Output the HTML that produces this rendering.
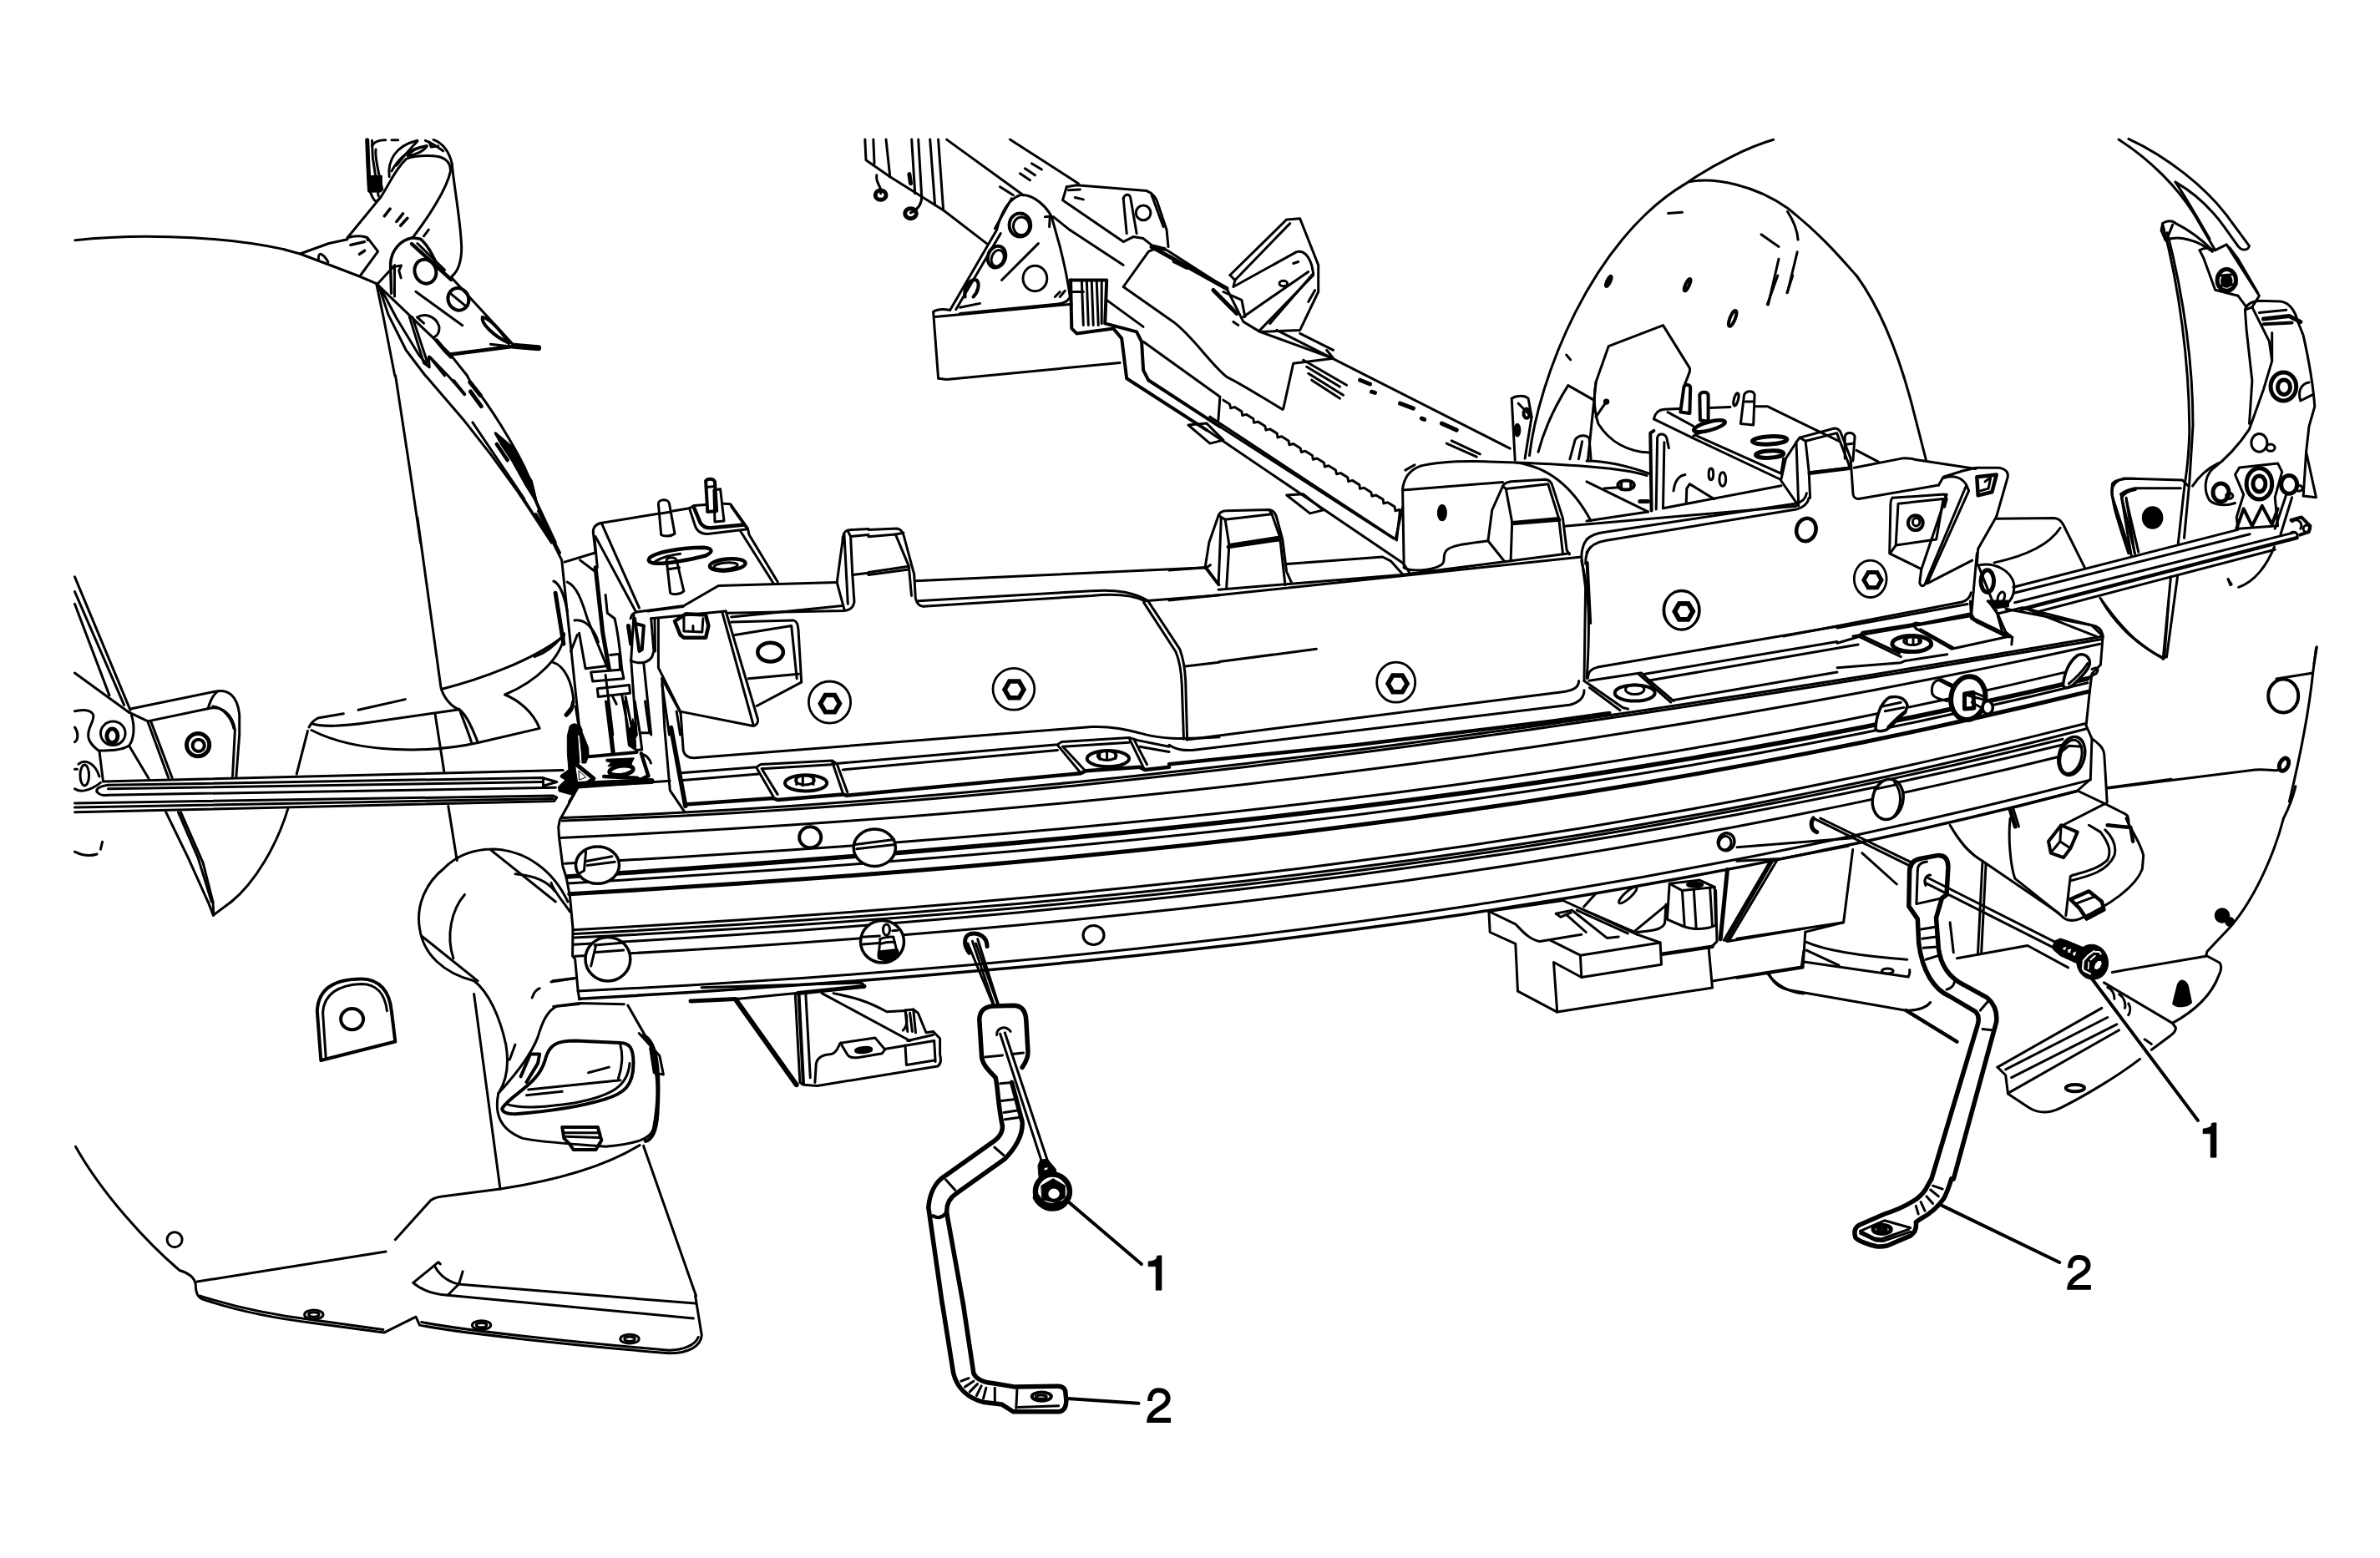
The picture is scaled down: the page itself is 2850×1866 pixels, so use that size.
<!DOCTYPE html>
<html><head><meta charset="utf-8"><title>Diagram</title>
<style>html,body{margin:0;padding:0;background:#fff}svg{display:block}text{font-family:"Liberation Sans",sans-serif}</style>
</head><body>
<svg width="2850" height="1866" viewBox="0 0 2850 1866" fill="none" stroke="#000" stroke-width="3" stroke-linecap="round" stroke-linejoin="round">
<rect x="0" y="0" width="2850" height="1866" fill="#fff" stroke="none"/>
<path d="M 439.7 167.7 L 440.9 198.1 L 442.4 227" stroke-width="5"/>
<path d="M 445.5 168.3 L 446.3 188.5 L 450.1 213.5 L 453.2 234.7"/>
<path d="M 441.1 211.6 L 456.5 211.2 L 455.9 228.9 L 441.7 229.3 Z" fill="#000"/>
<path d="M 442.4 227 C 444.9 234.7 447.8 240.5 450.7 241.5 L 455.5 236.6"/>
<path d="M 450.1 178.9 C 448.2 188.5 454 207.8 457.8 227"/>
<path d="M 445.5 175 C 447.8 169.3 455.5 167.3 461.7 167.7"/>
<path d="M 469 167.7 L 476.7 167.7"/>
<path d="M 466.1 211.6 C 464.2 192.4 472.8 175 499.8 168.3"/>
<path d="M 469 204.9 C 478.6 186.6 494 177 510.4 174.6"/>
<path d="M 488.2 186.6 C 494 178.9 503.7 176 511.4 175 C 507.5 180.8 497.9 185.6 488.2 186.6"/>
<path d="M 474.8 198.1 C 482.5 188.5 490.2 178.9 499.8 169.3"/>
<path d="M 509.4 168.3 C 517.1 171.2 522.9 175 530.6 180.8"/>
<path d="M 519.1 167.3 C 530.6 171.2 538.3 182.7 541.2 196.2"/>
<path d="M 514.2 170.2 L 516.2 176 L 524.8 175"/>
<path d="M 416 284.8 L 455.5 236.6 C 465.1 223.2 470.9 205.8 486.3 190.4 C 494 186.6 513.3 185.6 524.8 187.5 C 534.5 189.5 540.2 196.2 539.3 205.8 C 534.5 227 513.3 259.7 494 284.8"/>
<path d="M 541.2 196.2 C 544.1 227 551.8 265.5 552.7 296.3 C 552.7 313.7 547.9 325.2 541.2 331"/>
<path d="M 460.3 258.8 L 467.1 250.1" stroke-width="3.5"/>
<path d="M 474.8 265.5 L 482.5 255.9" stroke-width="3.5"/>
<path d="M 479.6 270.3 L 487.9 261.3" stroke-width="3.5"/>
<path d="M 507.5 282.8 L 513.3 275.1"/>
<path d="M 340 298.8 L 359.3 304 L 397.8 318.5 L 430.5 331 L 450.7 339.6"/>
<path d="M 359.3 304 L 393.9 291.5 L 416 286.7"/>
<path d="M 416 284.8 C 422.8 282.5 432.4 282.5 439.2 284.2 L 440.5 287.7"/>
<path d="M 440.1 284.8 L 452.6 301.1 L 431.5 330"/>
<path d="M 419.9 293.4 L 436.3 289.6" stroke-width="3.5"/>
<path d="M 430.5 304.4 L 436.6 300.2" stroke-width="3.5"/>
<path d="M 381.4 310.2 C 380.8 302.1 386.2 301.7 392.9 313.7"/>
<path d="M 468.6 351.2 L 467.6 315.6 C 468.6 300.2 478.6 287.7 494 284.8 L 503.7 286.3 C 511.4 292.5 517.1 304 522.9 315.6" stroke-width="3.5"/>
<path d="M 472.5 355 L 472.5 320.4"/>
<path d="M 452.6 339.6 L 472.8 317.5"/>
<path d="M 472.8 319.4 L 480.5 317.9 L 477.7 324.2 L 480.2 332.9"/>
<path d="M 493.1 292.1 L 540.2 334.8" stroke-width="4.5"/>
<path d="M 499.8 291.5 L 532.5 323.3"/>
<path d="M 540.2 331.9 L 615.3 413.4"/>
<path d="M 450.7 339.6 L 538.3 423.4 L 559.5 450"/>
<path d="M 539.3 424.4 L 615.3 414.7" stroke-width="4.5"/>
<path d="M 615.3 414.2 L 644.6 416.7" stroke-width="7"/>
<path d="M 587.4 412.2 L 613.4 415.3"/>
<ellipse cx="509.4" cy="325.2" rx="12.7" ry="14.6" transform="rotate(-20 509.4 325.2)" stroke-width="4"/>
<ellipse cx="548.9" cy="358.3" rx="12.3" ry="13.5" transform="rotate(-25 548.9 358.3)" stroke-width="4"/>
<path d="M 540.2 352.2 L 556.6 365.6"/>
<path d="M 499.8 380.1 C 507.5 375.3 521 377.2 525.8 390.7 C 526.8 398.4 522.9 402.2 520 403.8"/>
<path d="M 499.8 380.1 L 507.5 387.2"/>
<path d="M 577.8 380.1 C 575.8 386.8 590.3 402.2 609.5 410.9" stroke-width="4"/>
<path d="M 577.8 380.1 C 586.4 381 599.9 396.4 609.5 410.9" stroke-width="4"/>
<path d="M 497.9 349.3 L 553.7 389.7"/>
<path d="M 450.7 339.6 L 459.4 381 L 472.8 450"/>
<path d="M 453.6 342.5 L 465.1 377.2 L 486.3 419.5 L 509.4 450"/>
<path d="M 455.5 344.5 L 474.8 381 L 501.7 425.3 L 513.3 438.8"/>
<path d="M 490.2 379.1 L 507.5 434.9 L 514.2 439.8 L 513.3 427.2"/>
<path d="M 494 380.1 L 511.4 433"/>
<path d="M 522.9 408 L 532.5 419.5 L 540.2 427.2" stroke-width="5"/>
<path d="M 514.2 427.2 L 532.5 450"/>
<path d="M 473.6 450.1 L 490.5 560.4 L 503.6 650"/>
<path d="M 509.7 450.1 L 556.3 504.3 L 588.3 545.2 L 620.4 589.3 L 660.5 650"/>
<path d="M 515.4 428.1 L 537 450.5 L 556.3 472.2"/>
<path d="M 543.4 456.2 L 556.3 472.2" stroke-width="4"/>
<path d="M 559.5 450.1 L 562.7 456.2 C 581.9 480.2 604.4 515.5 620.4 544.4 C 630.1 562 638.1 579.7 642.1 600.5"/>
<path d="M 562.7 457.8 L 575.5 473.8" stroke-width="5"/>
<path d="M 563.5 469 L 576.3 486.6" stroke-width="5"/>
<path d="M 565.9 505.9 L 627.7 597.3"/>
<path d="M 593.2 518.7 L 614 536.4 L 626.9 560.4 L 636.5 576.5 L 642.1 600.5 L 630.1 581.3 L 614 552.4 L 601.2 533.2 Z" fill="#000"/>
<path d="M 594.8 531.9 L 607.6 551.1" stroke-width="4.5"/>
<path d="M 626.9 597.3 L 660.5 650"/>
<path d="M 642.1 600.5 L 665.4 650"/>
<path d="M 641.3 616.6 L 657.3 640.7" stroke-width="5"/>
<path d="M 499.9 620 L 528 823.7 C 530.9 835.5 541.3 847.3 550.1 849.7 C 559 856.2 566.3 873.9 572.3 889.3"/>
<path d="M 550.1 849.7 C 556 865.1 561.9 879.8 564.9 890.2"/>
<path d="M 521.2 856.2 L 531.8 924.1"/>
<path d="M 536.8 965.4 L 547.2 1030.4"/>
<path d="M 671.2 764.7 C 635.7 791.2 576.7 813.4 529.4 825.2"/>
<path d="M 675.6 758.8 C 674.1 785.3 644.6 814.9 604.7 832"/>
<path d="M 604.7 832 C 621 838.5 638.7 853.2 646.1 872.4 L 573.7 889.3 C 517.6 902 429.1 903.4 373 874.5"/>
<path d="M 370 871 C 373 865.1 377.4 861.5 381.8 859.7 L 411.3 854.7"/>
<path d="M 429.1 850.3 L 485.2 837.6"/>
<path d="M 373 866.5 C 384.8 871 414.3 869.5 443.8 865.1 L 550.1 849.7"/>
<path d="M 368.5 875.4 L 355.2 927.1"/>
<path d="M 344.9 968.4 C 331.6 1012.7 305.1 1057 277 1080"/>
<path d="M 123.5 935.9 L 674.1 922.6"/>
<path d="M 129.4 940.3 L 649 931.5 L 666.7 936.5 L 650.5 941.2"/>
<path d="M 116.1 948.3 C 114.6 944.8 119 941.8 129.4 940.3"/>
<path d="M 116.1 948.3 C 119 952.2 125 953 129.4 952.2 L 665.3 943.3"/>
<path d="M 129.4 944.8 L 650.5 936.5"/>
<path d="M 89.5 961.9 L 662.3 953 L 666.7 955.1 L 663.8 959.5 L 89.5 972.8"/>
<path d="M 89.5 966.9 L 662.3 956.6"/>
<path d="M 650.5 931.5 L 650.5 941.2"/>
<path d="M 157.4 848.8 L 257.8 828.1 C 272.6 825.2 284.4 832.6 286.7 856.2 L 286.7 879.8 L 282.9 930"/>
<path d="M 178.1 863.6 L 249 848.8 C 266.7 844.4 278.5 856.2 281.4 873.9 L 278.5 930"/>
<path d="M 249 848.8 C 251.9 838.5 256.3 831.1 260.8 828.1"/>
<path d="M 254.9 845.9 C 266.7 847.3 277 859.1 280 872.4"/>
<ellipse cx="135.3" cy="878.3" rx="14.8" ry="14.2"/>
<ellipse cx="134.4" cy="881.3" rx="6.5" ry="8.3" stroke-width="5"/>
<ellipse cx="237.1" cy="892.2" rx="13.6" ry="13.6" stroke-width="5"/>
<ellipse cx="237.7" cy="892.8" rx="7.1" ry="7.1" stroke-width="4"/>
<path d="M 89.5 806 L 154.5 853.2"/>
<path d="M 89.5 690.9 L 156 850.3"/>
<path d="M 89.5 708.6 L 148.6 844.4"/>
<path d="M 89.5 723.3 L 130.9 832.6"/>
<path d="M 154.5 853.2 L 176.6 863.6 L 201.7 931.5"/>
<path d="M 181.1 865.1 L 206.1 931.5"/>
<path d="M 157.4 856.2 C 161.9 871 160.4 885.7 154.5 893.1 L 178.1 932.4"/>
<path d="M 154.5 893.1 C 145.6 899 130.9 899 119 899"/>
<path d="M 89.5 851.8 C 98.4 850.3 108.7 848.8 111.7 856.2 C 113.1 865.1 104.3 871 105.8 882.8 C 107.2 891.6 114.6 896.1 119 899.9 L 123.5 935.9"/>
<path d="M 89.5 871 C 94 876.9 94 885.7 89.5 888.7"/>
<path d="M 89.5 944.8 C 95.4 949.2 107.2 947.7 120.5 937.4"/>
<ellipse cx="101.3" cy="928.5" rx="5.3" ry="12.4"/>
<path d="M 94 915.2 C 101.3 909.3 113.1 912.3 119 930"/>
<path d="M 89.5 921.2 L 92.5 921.2"/>
<path d="M 198.8 972.8 L 225.3 1027.4 L 249 1080"/>
<path d="M 213.5 972.8 L 237.1 1027.4 L 253.4 1080"/>
<path d="M 216.5 972.8 L 243.1 1033.3 L 254.9 1080"/>
<path d="M 89.5 1020.1 C 98.4 1024.5 107.2 1026 116.1 1023"/>
<path d="M 120.5 1017.1 L 122.6 1008.2"/>
<path d="M 249.1 1080 L 255.4 1096.1"/>
<path d="M 255 1080 L 255.8 1096.1"/>
<path d="M 277 1080 L 255.4 1096.1"/>
<path d="M 90.5 1373.3 C 122.9 1430.8 176.8 1489.2 215 1521.5 C 226.2 1525.1 232.9 1529.6 234.3 1538.6 C 234.3 1549.8 237.4 1554.3 244.2 1556.6"/>
<path d="M 244.2 1556.6 C 284.6 1570.1 329.5 1579 374.4 1584.4 L 459.8 1596.1 L 498 1577.2 L 502.5 1587.1 C 554.1 1597 688.9 1611.4 801.2 1620.8 C 823.6 1620.8 839.4 1612.7 840.3 1599.2 L 832.6 1552.1"/>
<path d="M 239.7 1552.1 C 284.6 1566.5 329.5 1575.4 374.4 1580.8 L 458.9 1592.5"/>
<path d="M 504.7 1583.5 C 554.1 1593.4 688.9 1607.8 801.2 1617.2 C 819.1 1617.2 832.6 1610.5 836.2 1601.5"/>
<path d="M 236.1 1535 L 462 1499.1"/>
<path d="M 473.3 1484.7 L 515.9 1437.5 C 520.4 1434.4 524.9 1433.5 529.4 1433 L 599 1424.1 C 666.4 1413.7 724.8 1397.1 766.1 1371.5"/>
<path d="M 494.8 1536.4 L 524.9 1511.7 L 527.2 1513.9"/>
<path d="M 494.8 1536.4 C 504.7 1545.3 518.2 1549.8 536.1 1551.2 L 830.4 1579"/>
<path d="M 520.4 1516.1 C 527.2 1529.6 540.6 1537.7 554.1 1538.6 L 832.6 1561.1"/>
<path d="M 554.1 1522.9 L 549.6 1537.7 L 536.1 1551.2"/>
<path d="M 770.6 1372.4 L 833.5 1552.1"/>
<path d="M 751.8 1204 L 778.7 1251.1"/>
<path d="M 567.6 1190.5 L 599 1424.1"/>
<path d="M 384.3 1270 L 379.8 1210.7 C 381.2 1183.7 401.4 1172.5 432.8 1172.5 C 455.3 1172.5 466.5 1188.2 468.8 1210.7 L 473.3 1247.5 Z" stroke-width="4"/>
<path d="M 390.2 1266.8 L 386.6 1212.9 C 387.9 1190.5 405.9 1179.3 432.8 1178.4 C 450.8 1178.4 461.1 1190.5 463.4 1210.7"/>
<ellipse cx="421.6" cy="1220.6" rx="13.5" ry="12.6" stroke-width="4"/>
<ellipse cx="209.1" cy="1484.7" rx="9.0" ry="9.0"/>
<ellipse cx="375.8" cy="1574.5" rx="11.2" ry="5.4"/>
<ellipse cx="375.8" cy="1574.5" rx="6.3" ry="2.7"/>
<ellipse cx="576.6" cy="1587.1" rx="11.2" ry="5.4"/>
<ellipse cx="576.6" cy="1587.1" rx="6.3" ry="2.7"/>
<ellipse cx="754.0" cy="1603.7" rx="11.2" ry="5.4"/>
<ellipse cx="754.0" cy="1603.7" rx="6.3" ry="2.7"/>
<path d="M 531.7 1040 C 509.2 1058 498 1084.9 502.5 1111.9 C 506.9 1143.3 531.7 1165.8 567.6 1174.8 C 585.6 1188.2 599 1219.7 605.8 1251.1 C 610.3 1278.1 605.8 1296 596.8 1309.5"/>
<path d="M 556.4 1071.4 C 540.6 1089.4 533.9 1120.9 542.9 1147.8"/>
<path d="M 617 1046.7 C 644 1049 657.4 1058 664.2 1067"/>
<path d="M 504.7 1120.9 L 572.1 1174.8"/>
<path d="M 610.3 1269.1 L 617 1251.1"/>
<path d="M 637.2 1195 C 639.5 1188.2 641.7 1186 646.2 1183.7"/>
<path d="M 661.9 1174.8 L 688.9 1171.6"/>
<path d="M 693.4 1202.6 L 666.4 1205.3 C 655.2 1210.7 649.3 1224.2 644 1242.1 C 637.2 1260.1 621.5 1282.6 596.8 1309.5 C 592.3 1332 596.8 1352.2 626 1363.4 C 652.9 1368.8 688.9 1370.2 724.8 1373.3 C 760.7 1370.2 778.7 1364.3 782.3 1352.2 C 788.6 1318.5 787.7 1291.5 783.2 1273.6 L 778.7 1251.1"/>
<path d="M 601.3 1327.5 C 612.5 1309.5 644 1300.5 652.9 1269.1 C 657.4 1251.1 666.4 1246.6 688.9 1246.6 L 742.8 1248.9 C 754 1248.9 758.5 1255.6 758.5 1273.6 C 758.5 1300.5 747.3 1309.5 724.8 1316.3 C 688.9 1327.5 644 1332 617 1334.2 C 605.8 1334.2 601.3 1332 601.3 1327.5" stroke-width="4"/>
<path d="M 605.8 1322.1 C 621.5 1327.5 644 1327.5 688.9 1320.7 C 733.8 1311.8 751.8 1300.5 754 1273.6"/>
<path d="M 632.7 1305 L 742.8 1293.8"/>
<path d="M 630.5 1311.8 L 673.2 1307.3"/>
<path d="M 704.6 1284.8 L 729.3 1278.1"/>
<path d="M 742.8 1251.1 C 746.4 1264.6 745 1278.1 740.5 1291.5"/>
<path d="M 765.2 1237.6 L 789.9 1264.6 L 794.4 1287.1 L 783.2 1284.8 L 778.7 1255.6"/>
<path d="M 673.2 1349.9 L 715.8 1349.9 L 720.3 1365.7 L 713.6 1376.9 L 686.6 1376.9 L 682.1 1370.2 L 675.4 1363.4 Z" stroke-width="4"/>
<path d="M 675.4 1356.7 L 718.1 1356.7"/>
<path d="M 677.6 1361.2 L 718.1 1362.5"/>
<path d="M 623.7 1289.3 L 635 1262.4 L 646.2 1262.4 L 644 1273.6 L 630.5 1296" stroke-width="4"/>
<path d="M 762.2 733.1 C 757.8 734.2 755.7 736.4 755.2 740.8"/>
<path d="M 710.3 637.1 C 710.3 630.6 714.2 627.3 720.7 626.2 L 788.4 615.3"/>
<path d="M 805.8 612 L 825.5 608.7"/>
<path d="M 710.3 637.1 L 713.1 662.2"/>
<path d="M 713.1 642.6 L 761.1 732"/>
<path d="M 720.7 627.3 L 765.5 728.1"/>
<path d="M 762.2 733.1 L 818.9 725.5 L 860.4 701.5 L 1002.2 697.6"/>
<path d="M 775.3 732 L 817.9 726.6"/>
<path d="M 779.7 740.8 L 869.1 732"/>
<path d="M 825.5 608.7 L 830.9 605.5 L 845.1 604.4"/>
<path d="M 867 603.3 L 874.6 603.7 L 895.3 632.7 L 897.1 640.4 L 931.3 697.1"/>
<path d="M 825.5 608.7 L 833.1 631.7 C 836.4 638.2 842.9 639.9 849.5 639.3 L 895.3 633.8"/>
<path d="M 830.9 607.6 L 838.6 626.2 C 841.9 631.7 846.2 632.7 851.7 632.3 L 891 628.4" stroke-width="4.5"/>
<path d="M 875.7 606.6 L 894.2 632.7"/>
<path d="M 886.6 636 L 925.9 698.2"/>
<path d="M 788.4 603.3 C 788.4 597.8 800.4 596.7 801.5 603.3 L 808 639.3 C 803.7 642.6 794.9 642.6 791.7 640.4 Z"/>
<path d="M 789.5 615.3 L 803.7 613.1"/>
<path d="M 845.1 576 C 847.3 572.7 854.9 572.7 856 577.1 L 858.2 612 L 847.3 613.1 Z" stroke-width="4"/>
<path d="M 846.2 583.6 L 856 582.6"/>
<path d="M 854.9 586.9 L 862.6 585.8 L 867 624 L 856 625.1 Z"/>
<path d="M 798.2 670.9 C 799.3 666.6 808 666.6 810.2 670.9 L 818.9 708 C 814.6 712.4 805.8 712.4 802.6 710.2 Z"/>
<path d="M 800.4 681.8 L 813.5 679.7"/>
<path d="M 777.5 668.8 C 781.8 662.2 814.6 655.7 842.9 655.7 C 853.9 656.7 853.9 661.1 845.1 665.5 C 825.5 670.9 792.8 676.4 781.8 674.2 C 776.4 673.1 776.4 670.9 777.5 668.8" stroke-width="4.5"/>
<path d="M 785.1 672 C 792.8 667.7 805.8 664.4 814.6 663.3"/>
<ellipse cx="871.3" cy="676.4" rx="21.4" ry="7.0" transform="rotate(-5 871.3 676.4)" stroke-width="4.5"/>
<ellipse cx="869.1" cy="677.9" rx="14.2" ry="3.9" transform="rotate(-5 869.1 677.9)"/>
<path d="M 1002.2 697.6 L 1008.8 649.1 C 1008.8 640.4 1011 636 1015.3 634.9 L 1040 633.4"/>
<path d="M 1018.6 642.6 L 1040 640.4"/>
<path d="M 1018.6 642.6 L 1020.8 688.4 L 1040 686.2"/>
<path d="M 1015.3 636 L 1018.6 642.6"/>
<path d="M 1011 640.4 L 1015.3 723.3"/>
<path d="M 1020.8 688.4 L 1023 721.1 C 1021.9 727.7 1017.5 730.9 1011 731.6 L 871.3 734.2"/>
<path d="M 1008.8 725.5 L 875.7 739"/>
<path d="M 1002.2 697.6 L 1011 729.9"/>
<path d="M 788.4 740.8 L 788.4 799.7 L 814.6 852.1 L 901.9 869.5 C 906.2 868.4 908.4 865.2 907.3 860.8 L 869.1 732"/>
<path d="M 864.8 733.1 L 901.9 867.3"/>
<path d="M 784 740.8 L 784.5 780"/>
<path d="M 808 744 L 814.6 760.4 L 818.9 763.7 L 845.1 763.7 L 848.4 749.5 L 845.1 736.4 L 821.1 735.3 Z" stroke-width="4.5"/>
<path d="M 818.9 738.6 L 818.9 756 L 840.8 757.1 L 841.9 740.8"/>
<path d="M 829.9 749.5 L 829.9 756"/>
<path d="M 875.7 745.1 L 949.9 742.9 C 954.2 744 955.3 747.3 956 753.9 L 959.7 817.1 L 906.2 845.5"/>
<path d="M 880 760.4 L 947.7 749.5 L 954.2 812.8"/>
<path d="M 896.4 812.8 L 956.4 807.3"/>
<ellipse cx="922.6" cy="781.1" rx="15.3" ry="11.3" stroke-width="4.5"/>
<ellipse cx="993.5" cy="841.1" rx="25.1" ry="25.1" stroke-width="2.8"/>
<path d="M 1005.5 842.7 L 999.6 852.7 L 988.3 852.7 L 982.4 842.7 L 988.3 832.6 L 999.6 832.6 Z" stroke-width="5.5" stroke-linejoin="miter"/>
<path d="M 640 596.7 L 659.6 644.7 L 672.7 670.9"/>
<path d="M 644.4 612 L 670.6 662.2"/>
<path d="M 672.7 670.9 L 694.6 880"/>
<path d="M 676 673.1 L 712 662.2"/>
<path d="M 694.6 670.9 L 712 684"/>
<path d="M 665.1 710.2 L 674.9 771.3" stroke-width="5"/>
<path d="M 662.9 696 C 670.6 699.3 676 714.6 679.3 732"/>
<path d="M 679.3 697.1 C 690.2 701.5 696.7 718.9 703.3 740.8 L 727.3 799.7"/>
<path d="M 688 742.9 C 701.1 740.8 712 753.9 716.4 769.1"/>
<path d="M 693.5 758.2 L 701.1 800.8 L 727.3 797.5"/>
<path d="M 640 786.6 C 653.1 782.2 664 773.5 672.7 762.6"/>
<path d="M 661.8 793.1 C 677.1 797.5 685.8 819.3 686.9 841.1 C 686.9 849.9 682.6 854.2 678.2 857.5"/>
<path d="M 683.6 780 L 691.3 760.4"/>
<path d="M 725.1 712.4 L 727.3 734.2 L 736 740.8 C 740.4 758.2 742.6 780 744.7 801.9"/>
<path d="M 713.1 679.7 L 721.8 758.2 L 729.5 801.9" stroke-width="5"/>
<path d="M 712 644.7 L 715.3 679.7"/>
<path d="M 707.6 805.1 L 744.7 801.9 L 746.9 812.8 L 709.8 816.1 Z"/>
<path d="M 715.3 824.8 L 753.5 820.4 L 754.6 830.2 L 716.4 834.6 Z"/>
<path d="M 730.6 784.4 L 741.5 783.3 L 742.6 801.9"/>
<path d="M 733.8 834.6 L 738.2 843.3"/>
<path d="M 758.9 736.4 L 755.7 791 L 762.2 880"/>
<path d="M 770.9 795.3 L 779.7 880"/>
<path d="M 755.2 791 C 762.2 795.3 775.3 795.3 780.8 786.6 L 782.9 780 L 779.7 740.8"/>
<path d="M 760 740.8 L 765.5 780 L 768.8 777.9 L 770.9 749.5 L 762.2 747.3" stroke-width="4"/>
<path d="M 752.4 749.5 L 755.7 771.3" stroke-width="5"/>
<path d="M 725.1 808.4 L 733.8 880"/>
<path d="M 744.7 832.4 L 753.5 880"/>
<path d="M 749.1 834.6 L 755.7 867.3"/>
<path d="M 792.8 819.3 L 801.5 880"/>
<path d="M 810.2 852.1 L 814.6 880"/>
<path d="M 1035.8 167.1 L 1037 191.8 L 1065.8 211.8"/>
<path d="M 1045.8 167.1 L 1047 195.8"/>
<path d="M 1061 167.1 L 1065.8 211.8 L 1129.6 251.7"/>
<path d="M 1091.7 167.1 L 1095.7 231.7"/>
<path d="M 1099.7 167.1 L 1103.7 235.7 C 1103.7 247.7 1095.7 252.5 1090.5 254.9"/>
<path d="M 1113.7 167.1 L 1119.6 245.7"/>
<path d="M 1123.6 167.1 L 1129.6 251.7"/>
<path d="M 1049.8 209.8 C 1047.8 219.7 1057 223.7 1054.6 231.7"/>
<ellipse cx="1054.6" cy="233.7" rx="6.4" ry="5.6" stroke-width="5"/>
<ellipse cx="1090.5" cy="255.7" rx="6.8" ry="6.0" stroke-width="5"/>
<path d="M 1088.9 208.6 L 1090.5 219.7" stroke-width="5"/>
<path d="M 1133.6 167.1 L 1225.4 233.7"/>
<path d="M 1209.4 167.1 L 1291.3 219.7"/>
<path d="M 1221.4 207.8 L 1233.4 215.8"/>
<path d="M 1227.4 201.8 L 1239.4 209.8"/>
<path d="M 1235.4 195.8 L 1247.4 203"/>
<path d="M 1129.6 251.7 L 1181.5 291.6"/>
<path d="M 1197.5 223.7 L 1213.4 233.7"/>
<path d="M 1137.6 371.4 L 1193.5 275.6 C 1197.5 259.7 1205.5 239.7 1221.4 233.7 C 1237.4 231.7 1253.4 247.7 1259.3 259.7 L 1269.3 295.6 C 1275.3 319.5 1279.3 339.5 1281.3 355.5 C 1279.3 361.4 1273.3 363.4 1265.3 364.2 L 1149.6 375.4"/>
<path d="M 1144.8 370.6 L 1198.3 279.6"/>
<path d="M 1211.4 237.7 L 1191.5 273.6"/>
<ellipse cx="1221.4" cy="269.6" rx="12.8" ry="14.0" stroke-width="4"/>
<ellipse cx="1223.0" cy="270.8" rx="9.6" ry="10.8"/>
<ellipse cx="1193.5" cy="307.6" rx="10.4" ry="13.2" transform="rotate(20 1193.5 307.6)" stroke-width="4"/>
<ellipse cx="1194.7" cy="309.2" rx="7.2" ry="10.0" transform="rotate(20 1194.7 309.2)"/>
<ellipse cx="1239.4" cy="333.5" rx="14.4" ry="15.2"/>
<path d="M 1155.6 355.5 C 1153.6 343.5 1161.6 333.5 1169.5 335.5 C 1173.5 339.5 1171.5 349.5 1165.5 355.5" stroke-width="4"/>
<path d="M 1199.5 335.5 L 1243.4 291.6"/>
<path d="M 1251.4 259.7 L 1257.3 258.9 L 1256.6 271.6"/>
<path d="M 1263.3 355.5 L 1269.3 349.5"/>
<path d="M 1269.3 355.5 L 1275.3 348.3"/>
<path d="M 1149.6 368.2 L 1173.5 363.4"/>
<path d="M 1117.6 373.4 L 1123.6 453.3 L 1133.6 454.4 L 1341.2 434.5"/>
<path d="M 1117.6 373.4 C 1121.6 370.6 1129.6 369.8 1137.6 371.4"/>
<path d="M 1119.6 379.4 L 1283.3 364.2"/>
<path d="M 1281.3 335.5 L 1325.2 335.5 L 1323.2 387.4 L 1361.1 397.4 L 1367.1 409.3 L 1369.1 443.3 L 1375.1 455.2 L 1460.9 511.1" stroke-width="4"/>
<path d="M 1295.3 335.5 L 1297.3 389.4"/>
<path d="M 1301.3 335.5 L 1303.3 389.4"/>
<path d="M 1307.2 335.5 L 1309.2 389.4"/>
<path d="M 1313.2 335.5 L 1315.2 389.4"/>
<path d="M 1319.2 335.5 L 1319.2 387.4"/>
<path d="M 1282.1 335.5 L 1283.3 393.4 L 1289.3 399.4 L 1333.2 393.4 L 1343.2 405.4 L 1349.2 453.3 L 1445 515.1" stroke-width="4"/>
<path d="M 1285.3 349.5 L 1297.3 349.5"/>
<path d="M 1277.3 223.7 L 1289.3 221.7 L 1373.1 228.5 C 1381.1 231.7 1385.1 237.7 1387.1 245.7 L 1397.1 275.6 L 1399 295.6"/>
<path d="M 1277.3 223.7 L 1272.5 239.7 L 1345.2 289.6 L 1357.1 283.6 L 1369.1 285.6 L 1379.1 293.6 L 1395.1 297.6"/>
<ellipse cx="1369.1" cy="254.9" rx="8.8" ry="8.8"/>
<path d="M 1345.2 237.7 C 1347.2 231.7 1353.1 231.7 1353.9 237.7 L 1361.1 279.6"/>
<path d="M 1345.2 237.7 L 1349.2 279.6"/>
<path d="M 1279.3 227.7 L 1293.3 226.9"/>
<path d="M 1287.3 236.5 L 1297.3 238.9"/>
<path d="M 1379.1 233.7 L 1393.1 271.6"/>
<path d="M 1345.2 343.5 L 1375.1 301.6 C 1381.1 297.6 1389.1 297.6 1397.1 299.6 L 1468.9 345.5 L 1488.9 385.4 L 1508.8 397.4 L 1596.6 429.3 L 1548.7 435.3 L 1536.8 489.2"/>
<path d="M 1379.1 295.6 L 1468.9 345.5" stroke-width="5"/>
<path d="M 1405 313.5 L 1421 321.5"/>
<path d="M 1452.9 347.5 L 1480.9 375.4" stroke-width="5"/>
<path d="M 1476.9 385.4 L 1482.9 389.4"/>
<path d="M 1345.2 343.5 L 1405 385.4 C 1429 403.4 1448.9 435.3 1468.9 451.3 C 1488.9 461.2 1516.8 479.2 1536 490.4"/>
<path d="M 1281.3 275.6 L 1345.2 317.5"/>
<path d="M 1261.3 259.7 L 1281.3 275.6"/>
<path d="M 1325.2 359.4 L 1369.1 391.4"/>
<path d="M 1369.1 409.3 L 1460.9 475.2 L 1458.9 503.1"/>
<path d="M 1464.9 479.2 L 1472.5 484 L 1473.7 488.8 L 1478.5 487.6 L 1486.9 492.8 L 1487.7 497.6 L 1492.5 496.4 L 1500.8 501.5 L 1501.6 506.3 L 1506.4 505.1 L 1514.8 510.3 L 1516 515.1 L 1520.8 513.9 L 1529.2 519.1 L 1530 523.9 L 1534.8 522.7 L 1543.1 527.9 L 1543.9 532.7 L 1548.7 531.5 L 1557.1 536.7 L 1558.3 541.5 L 1563.1 540.3 L 1571.5 545.5 L 1572.3 550.2 L 1577.1 549 L 1585.5 554.2 L 1586.3 559 L 1591 557.8 L 1599.4 563 L 1600.6 567.8 L 1605.4 566.6 L 1613.8 571.8 L 1614.6 576.6 L 1619.4 575.4 L 1627.8 580.6 L 1628.6 585.4 L 1633.4 584.2 L 1641.7 589.4 L 1642.9 594.2 L 1647.7 593 L 1656.1 598.1 L 1656.9 602.9 L 1661.7 601.7 L 1670.1 606.9 L 1670.9 611.7 L 1675.7 610.5 L 1676.5 610.9 L 1672.5 646.8"/>
<path d="M 1448.9 499.2 L 1672.5 646.8"/>
<path d="M 1460.9 511.1 L 1668.5 644.8"/>
<path d="M 1445 515.1 L 1680.5 674.8 L 1688.4 686.8"/>
<path d="M 1528.8 395.4 L 1808.2 537.1"/>
<path d="M 1556.7 399.4 L 1596.6 419.3"/>
<path d="M 1628.6 455.2 L 1640.5 460" stroke-width="5"/>
<path d="M 1642.5 469.2 L 1646.5 470.4" stroke-width="5"/>
<path d="M 1676.5 483.2 L 1692.4 489.2" stroke-width="5"/>
<path d="M 1702.4 501.1 L 1705.6 502.3" stroke-width="5"/>
<path d="M 1726.4 507.1 L 1744.3 515.1" stroke-width="5"/>
<path d="M 1732.3 531.1 L 1768.3 547.1"/>
<path d="M 1738.3 527.9 L 1772.3 543.9"/>
<path d="M 1560.7 431.3 L 1612.6 461.2"/>
<path d="M 1564.7 439.3 L 1604.6 463.2"/>
<path d="M 1566.7 447.3 L 1608.6 473.2"/>
<path d="M 1570.7 455.2 L 1604.6 477.2"/>
<path d="M 1588.6 419.3 L 1596.6 429.3"/>
<path d="M 1423 509.1 L 1445 507.1 L 1464.9 527.1 L 1448.9 531.1 Z"/>
<path d="M 1540.7 593 L 1560.7 591.8 L 1584.7 610.9 L 1568.7 614.9 Z"/>
<path d="M 1472.9 329.5 L 1540.7 262.9 L 1556.7 261.7 L 1578.7 317.5 L 1578.7 349.5 L 1556.7 395.4 L 1508.8 397.4"/>
<path d="M 1478.9 335.5 L 1544.7 267.6"/>
<path d="M 1472.9 329.5 L 1478.9 335.5 L 1476.9 343.5 L 1552.7 301.6 C 1560.7 299.6 1566.7 305.6 1570.7 317.5 L 1572.7 327.5 L 1520.8 387.4"/>
<path d="M 1488.9 379.4 L 1566.7 325.5"/>
<path d="M 1508.8 395.4 L 1572.7 329.5"/>
<path d="M 1464.9 349.5 L 1486.9 359.4 L 1490.9 379.4"/>
<ellipse cx="1536.8" cy="339.5" rx="4.8" ry="3.2"/>
<path d="M 1566.7 361.4 L 1574.7 347.5"/>
<path d="M 1548.7 315.5 L 1554.7 313.5"/>
<path d="M 1810.2 477.2 C 1816.2 473.2 1826.1 473.2 1830.1 477.2 L 1834.1 499.2"/>
<path d="M 1810.2 477.2 L 1814.2 551"/>
<path d="M 1818.2 483.2 L 1834.1 499.2 L 1826.1 549"/>
<ellipse cx="1828.1" cy="495.2" rx="3.6" ry="5.6" stroke-width="4"/>
<ellipse cx="1817.0" cy="515.1" rx="2.8" ry="6.8" fill="#000"/>
<path d="M 1040 634.5 L 1073.9 632.9 C 1078.7 633.5 1081 636.7 1082.2 641.5 L 1094.7 687.8 L 1096.3 716.6 C 1097.9 723 1101.1 726.2 1105.9 726.2"/>
<path d="M 1040 642.8 L 1072.3 639.9 L 1088.3 678.2 L 1091.5 713.4"/>
<path d="M 1072.3 639.9 L 1081.9 638.3"/>
<path d="M 1040 685.6 L 1088.3 678.2"/>
<path d="M 1040 688.5 L 1088.3 682.1"/>
<path d="M 1096.3 695.8 L 1444.6 679.8 L 1460 700.6"/>
<path d="M 1105.9 726.2 L 1307.2 713.4 C 1339.2 710.2 1358.4 713.4 1371.1 719.8 L 1460 712.8"/>
<path d="M 1099.5 719.8 L 1307.2 707.7 C 1339.2 705.4 1358.4 710.2 1374.3 719.2 L 1412.7 777.3 C 1417.5 790.1 1419.1 802.9 1419.7 815.7 L 1421.6 884.4"/>
<path d="M 1369.5 721.4 L 1407.9 780.5 C 1413.3 793.3 1414.6 806.1 1415.2 818.9 L 1417.5 885.3"/>
<path d="M 1419.7 798.1 L 1460 793.3"/>
<path d="M 1444.6 679.8 L 1449.4 676.7"/>
<ellipse cx="1213.9" cy="825.3" rx="24.9" ry="24.9" stroke-width="2.8"/>
<path d="M 1226 825.9 L 1220.3 835.8 L 1208.8 835.8 L 1203 825.9 L 1208.8 816 L 1220.3 816 Z" stroke-width="5.5" stroke-linejoin="miter"/>
<path d="M 815.1 854 L 818.2 898.8 C 819.8 905.2 824.6 907.7 831 907.7 L 1307.2 870.6 C 1332.8 869.4 1352 874.8 1371.1 879.6 C 1390.3 884.4 1409.5 886 1460 882.8"/>
<path d="M 792.7 812.5 L 795.9 873.2 L 802.3 946.7 L 819.8 972.3"/>
<path d="M 815.1 854 L 792.7 812.5"/>
<path d="M 803.5 871.6 L 820.8 965.2" stroke-width="5.5"/>
<path d="M 673 979.6 L 741.3 976.9 L 809.5 973.6 L 877.8 969.8 L 946 965.4 L 1014.3 960.6 L 1082.6 955.3 L 1150.8 949.6 L 1219.1 943.3 L 1287.3 936.7 L 1355.6 929.7 L 1423.9 922.2 L 1492.1 914.4 L 1560.4 906.2 L 1628.6 897.7 L 1696.9 888.8 L 1765.1 879.6 L 1833.4 870.2 L 1901.7 860.4 L 1969.9 850.4 L 2038.2 840.1 L 2106.4 829.5 L 2174.7 818.8 L 2243 807.9 L 2311.2 796.7 L 2379.5 785.4 L 2447.7 774 L 2516 762.4"/>
<path d="M 673 983 L 741.3 980.5 L 809.5 977.4 L 877.8 973.7 L 946 969.5 L 1014.3 964.7 L 1082.6 959.5 L 1150.8 953.8 L 1219.1 947.5 L 1287.3 940.9 L 1355.6 933.8 L 1423.9 926.3 L 1492.1 918.4 L 1560.4 910.1 L 1628.6 901.5 L 1696.9 892.5 L 1765.1 883.2 L 1833.4 873.7 L 1901.7 863.8 L 1969.9 853.7 L 2038.2 843.3 L 2106.4 832.8 L 2174.7 822 L 2243 811 L 2311.2 799.9 L 2379.5 788.6 L 2447.7 777.2 L 2516 765.7"/>
<path d="M 671 1003.5 L 739.3 1000.2 L 807.6 996.6 L 875.8 992.6 L 944.1 988.2 L 1012.4 983.5 L 1080.7 978.4 L 1149 972.9 L 1217.3 967 L 1285.5 960.7 L 1353.8 954 L 1422.1 946.9 L 1490.4 939.4 L 1558.7 931.4 L 1626.9 923 L 1695.2 914.2 L 1763.5 904.9 L 1831.8 895.2 L 1900.1 885 L 1968.3 874.3 L 2036.6 863.2 L 2104.9 851.6 L 2173.2 839.5 L 2241.5 826.9 L 2309.8 813.7 L 2378 800.1 L 2446.3 786 L 2514.6 771.3"/>
<path d="M 676.5 1034.3 L 743 1030.6 L 809.5 1026.7 L 876 1022.6 L 942.5 1018.3 L 1009 1013.7 L 1075.5 1008.8 L 1142 1003.6 L 1208.5 998.1 L 1275 992.3 L 1341.5 986.1 L 1408 979.5 L 1474.5 972.5 L 1541 965.1 L 1607.5 957.3 L 1674 949 L 1740.5 940.2 L 1807 930.9 L 1873.5 921 L 1940 910.6 L 2006.5 899.7 L 2073 888.2 L 2139.5 876 L 2206 863.2 L 2272.5 849.8 L 2339 835.7 L 2405.5 820.9 L 2472 805.4"/>
<path d="M 679 1050.1 L 746.4 1045.6 L 813.9 1041 L 881.3 1036.2 L 948.7 1031.3 L 1016.2 1026.1 L 1083.6 1020.7 L 1151.1 1015.1 L 1218.5 1009.2 L 1285.9 1003 L 1353.4 996.4 L 1420.8 989.5 L 1488.2 982.2 L 1555.7 974.6 L 1623.1 966.5 L 1690.6 958 L 1758 949 L 1825.4 939.5 L 1892.9 929.5 L 1960.3 919 L 2027.7 907.9 L 2095.2 896.3 L 2162.6 884 L 2230.1 871.1 L 2297.5 857.5 L 2364.9 843.3 L 2432.4 828.4 L 2499.8 812.7" stroke-width="5.5"/>
<path d="M 680 1058 L 747.4 1053.9 L 814.8 1049.6 L 882.2 1045.1 L 949.6 1040.4 L 1017 1035.5 L 1084.4 1030.2 L 1151.9 1024.7 L 1219.3 1018.9 L 1286.7 1012.7 L 1354.1 1006.2 L 1421.5 999.2 L 1488.9 991.9 L 1556.3 984.1 L 1623.7 975.9 L 1691.1 967.2 L 1758.5 958 L 1825.9 948.3 L 1893.3 938.1 L 1960.7 927.3 L 2028.1 915.9 L 2095.6 903.9 L 2163 891.2 L 2230.4 878 L 2297.8 864 L 2365.2 849.3 L 2432.6 834 L 2500 817.8"/>
<path d="M 681.7 1070.7 L 749.1 1066.8 L 816.5 1062.6 L 883.9 1058.3 L 951.3 1053.6 L 1018.7 1048.7 L 1086.1 1043.5 L 1153.5 1037.9 L 1220.9 1032 L 1288.3 1025.8 L 1355.7 1019.1 L 1423.1 1012 L 1490.5 1004.6 L 1557.9 996.7 L 1625.4 988.3 L 1692.8 979.4 L 1760.2 970 L 1827.6 960.1 L 1895 949.7 L 1962.4 938.7 L 2029.8 927.1 L 2097.2 914.9 L 2164.6 902.1 L 2232 888.7 L 2299.4 874.6 L 2366.8 859.8 L 2434.2 844.3 L 2501.6 828.1" stroke-width="5"/>
<path d="M 686 1113.7 L 753.1 1110 L 820.1 1106 L 887.2 1101.7 L 954.2 1097.1 L 1021.3 1092.3 L 1088.3 1087.1 L 1155.4 1081.5 L 1222.4 1075.6 L 1289.5 1069.3 L 1356.5 1062.6 L 1423.6 1055.5 L 1490.6 1047.9 L 1557.7 1039.9 L 1624.7 1031.3 L 1691.8 1022.3 L 1758.8 1012.7 L 1825.9 1002.6 L 1892.9 991.9 L 1960 980.6 L 2027 968.7 L 2094.1 956.2 L 2161.1 943 L 2228.2 929.2 L 2295.2 914.6 L 2362.3 899.4 L 2429.3 883.4 L 2496.4 866.7"/>
<path d="M 687.7 1118.6 L 754.7 1115 L 821.8 1111.1 L 888.8 1107 L 955.9 1102.6 L 1022.9 1098 L 1090 1093 L 1157 1087.6 L 1224.1 1081.9 L 1291.1 1075.8 L 1358.2 1069.3 L 1425.2 1062.3 L 1492.3 1054.9 L 1559.3 1047 L 1626.4 1038.6 L 1693.4 1029.7 L 1760.5 1020.2 L 1827.5 1010.1 L 1894.6 999.5 L 1961.6 988.2 L 2028.7 976.3 L 2095.7 963.7 L 2162.8 950.4 L 2229.8 936.5 L 2296.9 921.8 L 2363.9 906.3 L 2431 890 L 2498 873"/>
<path d="M 687.7 1123 L 753.7 1119.7 L 819.7 1116.1 L 885.7 1112.3 L 951.7 1108.1 L 1017.8 1103.5 L 1083.8 1098.6 L 1149.8 1093.3 L 1215.8 1087.7 L 1281.8 1081.6 L 1347.8 1075.1 L 1413.8 1068.2 L 1479.8 1060.8 L 1545.8 1053 L 1611.9 1044.7 L 1677.9 1035.8 L 1743.9 1026.5 L 1809.9 1016.6 L 1875.9 1006.2 L 1941.9 995.3 L 2007.9 983.7 L 2073.9 971.6 L 2139.9 958.8 L 2206 945.4 L 2272 931.4 L 2338 916.7 L 2404 901.3 L 2470 885.3"/>
<path d="M 687.7 1131.2 L 753.7 1127.5 L 819.7 1123.5 L 885.7 1119.2 L 951.7 1114.7 L 1017.8 1109.8 L 1083.8 1104.6 L 1149.8 1099.1 L 1215.8 1093.2 L 1281.8 1086.9 L 1347.8 1080.3 L 1413.8 1073.2 L 1479.8 1065.7 L 1545.8 1057.8 L 1611.9 1049.4 L 1677.9 1040.6 L 1743.9 1031.2 L 1809.9 1021.4 L 1875.9 1011 L 1941.9 1000.2 L 2007.9 988.7 L 2073.9 976.7 L 2139.9 964.1 L 2206 951 L 2272 937.2 L 2338 922.8 L 2404 907.7 L 2470 892"/>
<path d="M 688.6 1145.3 L 754.6 1141.8 L 820.6 1138 L 886.5 1133.9 L 952.5 1129.4 L 1018.5 1124.7 L 1084.5 1119.5 L 1150.4 1114.1 L 1216.4 1108.2 L 1282.4 1102 L 1348.4 1095.3 L 1414.4 1088.2 L 1480.3 1080.7 L 1546.3 1072.7 L 1612.3 1064.3 L 1678.3 1055.4 L 1744.2 1046 L 1810.2 1036 L 1876.2 1025.6 L 1942.2 1014.6 L 2008.2 1003 L 2074.1 990.9 L 2140.1 978.2 L 2206.1 964.9 L 2272.1 951 L 2338 936.4 L 2404 921.2 L 2470 905.3"/>
<path d="M 692 1186.9 L 759.1 1183.6 L 826.2 1179.9 L 893.3 1175.8 L 960.3 1171.4 L 1027.4 1166.6 L 1094.5 1161.3 L 1161.6 1155.7 L 1228.7 1149.6 L 1295.8 1143.1 L 1362.9 1136.1 L 1429.9 1128.6 L 1497 1120.7 L 1564.1 1112.3 L 1631.2 1103.3 L 1698.3 1093.9 L 1765.4 1083.9 L 1832.4 1073.3 L 1899.5 1062.1 L 1966.6 1050.4 L 2033.7 1038.1 L 2100.8 1025.2 L 2167.9 1011.7 L 2235 997.5 L 2302 982.7 L 2369.1 967.2 L 2436.2 951 L 2503.3 934.1"/>
<path d="M 693.8 1196.2 L 760.3 1192.4 L 826.7 1188.4 L 893.2 1184.1 L 959.6 1179.5 L 1026.1 1174.7 L 1092.5 1169.4 L 1159 1163.8 L 1225.4 1157.9 L 1291.9 1151.5 L 1358.3 1144.7 L 1424.8 1137.5 L 1491.2 1129.9 L 1557.7 1121.8 L 1624.1 1113.1 L 1690.6 1104 L 1757 1094.4 L 1823.5 1084.1 L 1889.9 1073.4 L 1956.4 1062 L 2022.8 1050 L 2089.3 1037.4 L 2155.7 1024.1 L 2222.2 1010.2 L 2288.6 995.6 L 2355.1 980.2 L 2421.5 964.2 L 2488 947.4" stroke-width="3.5"/>
<path d="M 815.1 925.7 L 905.9 918.7 L 910.9 915.6 L 996.6 911.1 L 1001.7 914.4 L 1266.4 891.7 L 1271.4 888.4 L 1352.1 883.4 L 1362.2 886.6 L 1400 894.2"/>
<path d="M 912.2 920.7 L 999.2 915.6"/>
<path d="M 1272.7 894.2 L 1352.1 889.2"/>
<path d="M 817.6 934.5 L 908.4 927"/>
<path d="M 1009.2 921.9 L 1266.4 898.5"/>
<path d="M 1364.7 894.2 L 1400 900.5"/>
<path d="M 820.2 963.5 L 926 956 L 931.1 958 L 1009.2 951.4 L 1014.3 952.7 L 1294.1 926.2 L 1300.4 923.2 L 1364.7 918.7 L 1371 921.9 L 1400 918.7" stroke-width="4.5"/>
<path d="M 905.9 919.4 L 926 953.9"/>
<path d="M 912.2 920.7 L 931.1 951.4"/>
<path d="M 996.6 912.6 L 1009.7 950.9"/>
<path d="M 1002.2 915.1 L 1014.8 948.9"/>
<path d="M 1266.4 892.4 L 1294.1 925.7"/>
<path d="M 1272.7 894.2 L 1299.2 922.7"/>
<path d="M 1352.1 884.1 L 1370.2 921.2"/>
<path d="M 1358.4 886.6 L 1373.5 915.6"/>
<ellipse cx="965.1" cy="937.8" rx="25.2" ry="9.6" stroke-width="4"/>
<ellipse cx="963.9" cy="934.5" rx="11.3" ry="5.5"/>
<path d="M 953.8 932 L 953.8 939.6"/>
<path d="M 961.3 930.8 L 961.3 940.8"/>
<path d="M 973.9 931.3 L 973.9 939.6"/>
<ellipse cx="1326.9" cy="908.6" rx="25.2" ry="9.6" stroke-width="4"/>
<ellipse cx="1325.6" cy="905.0" rx="11.3" ry="5.5"/>
<path d="M 1316.8 901.8 L 1316.8 909.3"/>
<path d="M 1325.6 900.5 L 1325.6 910.6"/>
<path d="M 1335.7 901.8 L 1335.7 908.6"/>
<path d="M 89.9 287.8 C 148.3 281.1 251.7 279.8 340.2 298.6"/>
<path d="M 692.1 943 L 670.4 982 L 668.7 990.7 L 669.5 1002.8 L 673.9 1037.5 L 678.2 1051.3 L 682.5 1073.8 L 686 1112 L 685.6 1144.9 L 688.6 1148.4 L 692.1 1186.5 L 693.8 1196.9"/>
<path d="M 660 1057.4 C 663.5 1068.6 675.6 1080.8 682.5 1092"/>
<path d="M 660 1176.1 L 687.7 1171.8"/>
<path d="M 692.1 943 L 802.1 935.2"/>
<ellipse cx="715.5" cy="1036.1" rx="26.0" ry="22.2" stroke-width="3.5" fill="#fff"/>
<path d="M 701.6 1020.1 L 699.5 1042.7 L 692.9 1046.5"/>
<path d="M 701.6 1031.4 L 732.8 1025.7"/>
<path d="M 703.3 1036.6 L 736.3 1032.3"/>
<ellipse cx="727.9" cy="1148.7" rx="26.9" ry="26.3" stroke-width="3.5" fill="#fff"/>
<path d="M 713.7 1131.9 L 707.7 1157"/>
<path d="M 712 1131.9 L 744.9 1129.3"/>
<path d="M 713.7 1140.6 L 746.7 1138"/>
<ellipse cx="970.2" cy="1002.8" rx="13.0" ry="12.5" stroke-width="4" fill="#fff"/>
<ellipse cx="1047.3" cy="1015.3" rx="25.1" ry="22.2" stroke-width="3.5" fill="#fff"/>
<path d="M 1024 1011.5 L 1070.7 1005.4"/>
<path d="M 1025.7 1016.7 L 1071.6 1011.5"/>
<ellipse cx="1056.5" cy="1127.8" rx="26.0" ry="25.2" stroke-width="3.5" fill="#fff"/>
<path d="M 1032 1122.3 L 1053.4 1121"/>
<path d="M 1032.8 1131.1 L 1052.2 1129.4"/>
<ellipse cx="1061.5" cy="1113.5" rx="4.0" ry="6.6"/>
<path d="M 1053.9 1124.8 L 1052.2 1145"/>
<path d="M 1069.8 1122.3 L 1074.9 1142.5"/>
<path d="M 1053.9 1124.8 C 1058.5 1122.3 1066.1 1121.8 1069.8 1122.3"/>
<path d="M 1054.7 1130.4 C 1059.7 1128.6 1066.1 1127.8 1071.6 1128.6"/>
<path d="M 1052.2 1139.9 L 1074.1 1137.4 L 1076.1 1143.7 C 1068.6 1150 1058.5 1151.3 1052.2 1147.5 Z" fill="#000"/>
<path d="M 1068.6 1114.7 L 1074.9 1114.2"/>
<path d="M 1182.1 1133.6 C 1182.1 1122.3 1172 1116 1161.9 1118.5 C 1154.3 1121 1153.1 1131.1 1160.6 1141.2" stroke-width="5"/>
<path d="M 1164.4 1127.3 L 1190.9 1205.5"/>
<path d="M 1170.7 1124.8 L 1195.9 1204.3"/>
<ellipse cx="1309.5" cy="1120.0" rx="12.5" ry="11.5" stroke-width="3.2" fill="#fff"/>
<path d="M 1443.1 679.7 L 1447.9 649.4 L 1459.1 617.4 C 1460.7 612.6 1463.9 611.7 1468.7 611.7 L 1519.8 610.4 C 1524.6 611 1527.2 614.2 1528.5 619 L 1535.8 646.2 L 1540.6 684.5 L 1547 698.9"/>
<path d="M 1467.1 622.2 L 1523 615.8 L 1532.6 643 L 1471.9 652.6"/>
<path d="M 1467.1 622.2 L 1471.9 652.6 L 1468.7 703.7"/>
<path d="M 1462.3 620.6 L 1459.1 700.5 L 1443.1 679.7"/>
<path d="M 1532.6 643 L 1539 700.5"/>
<path d="M 1470.9 655.1 L 1531.7 646.2" stroke-width="4.5"/>
<path d="M 1459.1 617.4 L 1467.1 622.2"/>
<path d="M 1519.8 610.4 L 1523 615.8"/>
<path d="M 1400 682.9 L 1443.1 679.7"/>
<path d="M 1540.6 675.6 L 1655.7 667 L 1665.3 671.8 L 1679.6 687.7"/>
<path d="M 1400 719.1 L 1893.8 667"/>
<path d="M 1459.1 706.3 L 1678 688.4 L 1879.4 662.8"/>
<path d="M 1681.2 679.7 L 1679.6 585.5 C 1681.2 572.7 1687.6 563.1 1700.4 558.3 C 1719.6 553.5 1751.6 551.9 1783.5 552.9 L 1815.5 554.1 C 1879.4 556.7 1943.3 559.9 1972.1 569.5"/>
<path d="M 1679.6 587.1 L 1799.5 577.5"/>
<path d="M 1681.2 679.7 C 1687.6 684.5 1713.2 684.5 1726 676.5 C 1732.4 671.8 1726 665.4 1732.4 659 C 1738.8 652.6 1757.9 651 1781.9 647.8 L 1801.1 671.8"/>
<ellipse cx="1726.9" cy="614.2" rx="4.5" ry="8.6" fill="#000"/>
<path d="M 1781.9 647.8 L 1786.7 611 L 1799.5 582.3 C 1801.1 578.4 1804.3 577.5 1809.1 576.8 L 1850.6 574.3 C 1855.4 574.9 1857.7 577.5 1858.9 581.6 L 1871.4 620.6 L 1876.2 659 L 1879.4 663.8"/>
<path d="M 1803.3 585.5 L 1853.8 579.7 L 1866.6 620.6 L 1810.7 625.4"/>
<path d="M 1803.3 585.5 L 1810.7 625.4 L 1809.1 671.8"/>
<path d="M 1799.5 582.3 L 1803.3 585.5"/>
<path d="M 1866.6 620.6 L 1871.4 662.2"/>
<path d="M 1811.3 627 L 1867.2 622.5" stroke-width="4.5"/>
<path d="M 1682.8 563.1 L 1694 556.7"/>
<path d="M 1671.7 643 L 1679.6 607.8"/>
<path d="M 1815.5 554.1 C 1847.4 558.3 1879.4 575.9 1905 623.8"/>
<path d="M 1873 630.2 L 2151 606.2"/>
<path d="M 1893.8 667 L 1898.6 703.7 L 1897 815.6"/>
<path d="M 1893.8 671.8 C 1901.8 703.7 1905 735.7 1900.2 812.4"/>
<path d="M 1893.8 667 C 1893.8 657.4 1897 649.4 1900.2 646.2"/>
<path d="M 1898.6 675 C 1898.6 665.4 1901.1 659 1905 655.1"/>
<ellipse cx="2013.6" cy="730.9" rx="21.7" ry="23.0" stroke-width="2.8"/>
<path d="M 2027 732.5 L 2021.6 742.1 L 2010.7 742.1 L 2005.3 732.5 L 2010.7 722.9 L 2021.6 722.9 Z" stroke-width="5.5" stroke-linejoin="miter"/>
<path d="M 1460.1 792.6 L 1576.4 777.2"/>
<ellipse cx="1671.7" cy="817.2" rx="23.0" ry="24.0" stroke-width="2.8"/>
<path d="M 1685.1 818.8 L 1679.3 828.7 L 1667.8 828.7 L 1662.1 818.8 L 1667.8 808.9 L 1679.3 808.9 Z" stroke-width="5.5" stroke-linejoin="miter"/>
<path d="M 1420.8 885.9 L 1873 828.4 C 1885.8 826.8 1890.6 822 1890.6 815.6"/>
<path d="M 1400 892.3 C 1409.6 898.7 1419.2 899.3 1432 898 L 1879.4 844.3 C 1892.2 841.1 1897 834.7 1897 826.8"/>
<path d="M 1400 915.3 L 1623.7 892.3 L 1859.9 863.5 L 1927.3 853.9" stroke-width="4.5"/>
<path d="M 1897 815.6 L 1943.3 847.5 L 1949.7 849.1"/>
<path d="M 1903.4 823.6 L 1940.1 850.7"/>
<path d="M 1965.7 806 L 1972.1 812.4 L 2004 839.5"/>
<path d="M 1962.5 807.6 L 2000.8 841.1"/>
<ellipse cx="1957.7" cy="830.0" rx="24.0" ry="9.6" stroke-width="4"/>
<ellipse cx="1957.7" cy="825.8" rx="11.2" ry="5.8"/>
<path d="M 1901.5 811.9 C 1901.5 805.5 1905.4 800.9 1913.1 799.1 L 2199.9 750.3"/>
<path d="M 1902.8 815.3 L 1964.4 806"/>
<path d="M 1969.6 807.3 L 2199.9 768.5"/>
<path d="M 1973.4 815.3 L 2225 772.1"/>
<path d="M 2004.2 838.4 L 2199.9 805"/>
<path d="M 2223.1 330 C 2249.4 366.1 2271.6 418.7 2288.2 479.8 L 2306.3 550.5"/>
<path d="M 2116.3 364.7 L 2128.8 330"/>
<path d="M 2139.9 350.8 L 2146.8 330"/>
<ellipse cx="2074.7" cy="381.3" rx="3.1" ry="10.0" transform="rotate(22 2074.7 381.3)" stroke-width="4"/>
<ellipse cx="2020.6" cy="341.1" rx="2.2" ry="7.8" transform="rotate(25 2020.6 341.1)" stroke-width="4"/>
<ellipse cx="1926.3" cy="336.9" rx="1.9" ry="6.7" transform="rotate(25 1926.3 336.9)" stroke-width="4"/>
<path d="M 1901.4 551.9 L 1911.1 457.6 L 1926.3 414.6 L 1991.5 389.6 L 2023.4 440.9 L 2023.4 445.1 L 2016.5 463.1"/>
<path d="M 1911.1 457.6 C 1908.3 474.2 1908.3 490.8 1913.9 507.5 C 1927.7 529.7 1949.9 540.8 1974.9 542.1"/>
<path d="M 1900 551.9 C 1927.7 551.9 1955.5 560.2 1974.9 567.1"/>
<path d="M 1923.6 481.1 L 1911.1 499.2"/>
<ellipse cx="1923.6" cy="481.1" rx="2.2" ry="2.2" fill="#000"/>
<path d="M 1980.4 501.9 C 1981.8 495 1986 490.8 1992.9 490.3 L 2010.9 489.5"/>
<path d="M 2047 488.6 L 2071.9 487.5"/>
<path d="M 2102.4 486.7 L 2116.3 486.7 L 2177.3 516.4"/>
<path d="M 1980.4 501.9 L 2026.2 524.1 L 2131.6 574 L 2153.7 605.9"/>
<path d="M 1997.1 493.6 L 2027.6 510.3"/>
<path d="M 2026.2 524.1 C 2030.3 518.6 2038.7 517.2 2044.2 516.4"/>
<path d="M 2030.3 521.3 L 2132.9 567.1 L 2135.7 549.1"/>
<path d="M 2012.3 493.6 L 2016.5 463.1 C 2017.9 460.3 2023.4 460.3 2024.2 463.7 L 2023.4 495 Z" stroke-width="4"/>
<path d="M 2035.9 503.3 L 2035.3 472.8 C 2037.3 468.7 2044.2 468.7 2045.6 472.8 L 2045.6 504.7 Z" stroke-width="4"/>
<path d="M 2084.4 507.5 L 2088.6 472.8 C 2091.3 467.3 2099.7 467.3 2101.1 472.8 L 2099.7 508.9 Z"/>
<path d="M 2090 481.1 L 2100.2 481.1"/>
<ellipse cx="2078.9" cy="478.4" rx="2.5" ry="7.8" transform="rotate(15 2078.9 478.4)"/>
<ellipse cx="2047.0" cy="510.3" rx="19.4" ry="5.0" transform="rotate(-15 2047.0 510.3)" stroke-width="4.5"/>
<ellipse cx="2119.1" cy="527.4" rx="20.8" ry="4.7" transform="rotate(-3 2119.1 527.4)" stroke-width="5"/>
<ellipse cx="2119.1" cy="544.1" rx="16.6" ry="4.2" transform="rotate(-3 2119.1 544.1)" stroke-width="5"/>
<ellipse cx="2048.9" cy="567.9" rx="2.8" ry="6.9"/>
<ellipse cx="2062.8" cy="574.0" rx="3.9" ry="8.3"/>
<path d="M 2004 587.9 C 2005.4 576.8 2009.5 569.9 2017.9 568.5"/>
<path d="M 2019.2 603.2 L 2019.8 585.1 L 2023.4 579.6 L 2052.5 597.6"/>
<path d="M 1977.6 611.5 L 1976.3 518.6 L 1980.4 515.8" stroke-width="4"/>
<path d="M 1983.2 610.1 L 1984.6 524.1 C 1986 518.6 1992.9 518.6 1995.7 524.1 L 1998.4 536.6"/>
<path d="M 1991.5 608.7 L 1992.9 529.7"/>
<path d="M 1900 624 L 1973.5 612.9"/>
<path d="M 1991.5 608.7 L 2132.9 581.8"/>
<path d="M 1900 576.8 L 1973.5 612.9"/>
<ellipse cx="1947.1" cy="581.0" rx="9.7" ry="5.5" stroke-width="4"/>
<path d="M 1941.6 576.8 L 1941.6 586.5"/>
<path d="M 1952.7 576.3 L 1952.7 585.7"/>
<path d="M 1920.8 585.1 L 1938.8 583.7"/>
<path d="M 1963.8 600.4 L 1973.5 600.4" stroke-width="5"/>
<path d="M 1900 646.1 C 1905.5 640.6 1913.9 638.4 1922.2 637.3 L 2149.6 603.2 C 2157.9 601.8 2162.1 597.6 2163.4 590.7"/>
<path d="M 1900 661.4 C 1905.5 651.7 1913.9 648.9 1922.2 647.5 L 2151 610.1 C 2160.7 607.3 2164.8 603.2 2166.2 596.2"/>
<path d="M 2153.7 604.5 L 2151 529.7 L 2155.1 524.1 L 2196.7 513 C 2200.9 513 2203.7 515.8 2205 520 L 2216.1 549.1 L 2218.9 590.7 C 2218.9 594.8 2221.7 597.6 2225.8 597.6"/>
<path d="M 2162.1 528.3 L 2199.5 518.6 L 2213.4 554.6 L 2214.8 560.2 L 2166.2 565.7 Z"/>
<path d="M 2155.1 524.1 L 2162.1 528.3"/>
<path d="M 2166.2 565.7 L 2167.6 596.2"/>
<path d="M 2166.8 566.8 L 2214.8 560.7" stroke-width="4.5"/>
<path d="M 2151 529.7 L 2138.5 549.1 L 2132.9 574"/>
<path d="M 2209.2 549.1 L 2209.2 522.7 C 2210.6 517.2 2218.9 517.2 2221.1 522.7 L 2218.9 551.9"/>
<path d="M 2209.2 532.4 L 2220.3 531.1"/>
<path d="M 2225.8 597.6 L 2321.5 581"/>
<path d="M 2220.3 560.2 L 2277.1 549.1 C 2282.7 548.5 2288.2 549.1 2293.8 550.5 L 2365.9 561.6"/>
<path d="M 2223.1 539.4 L 2249.4 553.2"/>
<path d="M 2177.3 516.4 L 2202.3 528.3"/>
<path d="M 2321.5 581 L 2327.1 571.3 L 2349.3 564.3 L 2365.9 560.2 L 2393.6 560.2 C 2401.9 561.6 2405.3 565.7 2404.2 571.3 L 2390.8 618.4"/>
<path d="M 2367.3 571.3 L 2390.8 568.5 L 2385.3 589.3 L 2368.7 593.4 Z" stroke-width="4.5"/>
<path d="M 2377 576.8 L 2383.9 571.3 L 2381.1 585.1 L 2371.4 587.9"/>
<path d="M 2266.1 596.2 L 2328.5 592.1 L 2331.2 597.6 L 2328.5 607.3"/>
<path d="M 2266.1 596.2 C 2263.3 599 2263.8 604.5 2263.8 610.1 L 2262.7 662.8 L 2299.3 680.8"/>
<path d="M 2273 603.2 L 2327.1 597.6 L 2318.7 646.1 L 2270.2 653.1 Z"/>
<path d="M 2270.2 653.1 L 2263.3 662.8"/>
<ellipse cx="2293.8" cy="626.2" rx="8.9" ry="8.9" stroke-width="4"/>
<ellipse cx="2294.6" cy="625.3" rx="4.2" ry="4.7"/>
<path d="M 2327.1 572.7 C 2338.2 568.5 2349.3 571.3 2354.8 581 L 2304.9 700.2 C 2302.1 703 2299.3 701.6 2298.8 697.4 L 2300.7 682.2 L 2331.2 592.1"/>
<path d="M 2354.8 581 L 2357.6 587.9 L 2307.7 698.8 L 2361.7 671.1"/>
<path d="M 2390.8 618.4 L 2368.7 657.2 L 2367.3 676.6"/>
<path d="M 2367.3 662.8 L 2360.3 740.4 L 2368.7 746 L 2401.9 762.1"/>
<path d="M 2368.7 676.6 L 2390.8 732.1 L 2399.2 762.1"/>
<path d="M 2135.7 762.1 L 2349.3 721 C 2354.8 719.6 2359 715.5 2360.3 709.9"/>
<path d="M 2218.9 762.1 L 2360.3 737.7"/>
<ellipse cx="2162.9" cy="634.5" rx="11.6" ry="13.9" transform="rotate(15 2162.9 634.5)" stroke-width="4.5"/>
<ellipse cx="2239.7" cy="693.3" rx="19.4" ry="22.2" stroke-width="2.8"/>
<path d="M 2253 694.7 L 2247.8 703.8 L 2237.2 703.8 L 2231.9 694.7 L 2237.2 685.5 L 2247.8 685.5 Z" stroke-width="5" stroke-linejoin="miter"/>
<ellipse cx="2013.7" cy="730.7" rx="20.8" ry="23.6" stroke-width="2.8"/>
<path d="M 2027.6 732.1 L 2022 741.5 L 2010.9 741.5 L 2005.4 732.1 L 2010.9 722.7 L 2022 722.7 Z" stroke-width="5" stroke-linejoin="miter"/>
<path d="M 1900.6 673.9 L 1904.2 746" stroke-width="4"/>
<path d="M 2390.8 621.2 L 2460.2 620.6 C 2465.7 621.2 2468.5 624 2471.3 629.5 L 2496.2 679.4"/>
<path d="M 2467.1 632.3 C 2454.6 651.7 2426.9 665.6 2388.1 673.9"/>
<ellipse cx="2379.8" cy="696.1" rx="7.8" ry="13.3" stroke-width="5"/>
<path d="M 2371.4 676.6 C 2388.1 673.9 2407.5 682.2 2411.6 698.8 C 2413 712.7 2407.5 721 2399.2 725.2"/>
<ellipse cx="2396.4" cy="715.5" rx="3.9" ry="6.7" transform="rotate(20 2396.4 715.5)"/>
<path d="M 2529.5 579.6 C 2532.3 574 2543.4 572.7 2560 573.5"/>
<path d="M 2529.5 579.6 C 2526.7 596.2 2535.1 621.2 2548.9 662.8"/>
<path d="M 2540.6 596.2 C 2543.4 590.7 2548.9 587.9 2557.2 586.5"/>
<path d="M 2540.6 596.2 L 2551.7 662.8"/>
<path d="M 2546.1 596.2 L 2555.9 661.4"/>
<path d="M 2401.9 729.3 L 2504.5 748.7 L 2518.4 762.1"/>
<path d="M 2426.9 729.3 L 2510.1 762.1"/>
<path d="M 2393.2 734.7 L 2421.8 727.8 L 2510.2 750.3 C 2515.4 752.9 2518 757.3 2518 763.3 L 2515.4 796.3 L 2505 806.7 L 2502.4 827.5 L 2498.1 869 L 2505 884.6 C 2512 889.8 2518.9 895 2519.8 903.7 L 2523.2 960.9"/>
<path d="M 2505 884.6 L 2503.3 933.2 L 2487.7 947 L 2520.6 962.6 L 2544.9 974.8 C 2548.4 976.5 2549.2 980 2549.2 990"/>
<path d="M 2523.2 943.6 L 2600 933.2"/>
<path d="M 2408 967.8 L 2487.7 947"/>
<path d="M 2407.1 969.6 L 2413.2 990" stroke-width="5"/>
<path d="M 2410.6 967.8 L 2417.5 990"/>
<path d="M 2520.6 962.6 L 2466.9 990"/>
<path d="M 2470.4 820.5 C 2472.1 806.7 2477.3 792.8 2487.7 785 C 2494.6 781.5 2501.6 785.9 2502.4 792.8 C 2502.9 799.7 2494.6 808.4 2484.2 818.8 C 2479 824 2472.1 825.7 2470.4 820.5 Z" stroke-width="3.5" fill="#fff"/>
<path d="M 2477.3 818.8 C 2484.2 813.6 2494.6 803.2 2499.8 794.5"/>
<path d="M 2505 801.5 C 2512 798 2513.7 801.5 2510.2 806.7 L 2492.9 815.3"/>
<path d="M 2245.9 872.5 C 2246.8 858.6 2252 841.3 2262.4 835.3 C 2272.8 832.7 2281.5 836.1 2284.1 844.8 L 2281.5 853.4 C 2274.5 858.6 2267.6 867.3 2258.9 874.2 C 2252 876.8 2246.8 876 2245.9 872.5 Z" stroke-width="3.5" fill="#fff"/>
<path d="M 2252 846.5 L 2276.3 841.3"/>
<path d="M 2257.2 851.7 L 2279.7 847.4"/>
<path d="M 2260.7 870.8 C 2267.6 863.8 2274.5 856.9 2280.6 852.6"/>
<path d="M 2338.6 820.5 L 2323.1 814.5 C 2316.1 814.5 2312.7 820.5 2313.5 829.2 C 2314.4 834.4 2317.9 836.1 2331.7 839.6"/>
<path d="M 2323.9 814.5 L 2338.6 822.3" stroke-width="5"/>
<ellipse cx="2356.8" cy="836.1" rx="20.5" ry="26.0" transform="rotate(10 2356.8 836.1)" stroke-width="6" fill="#fff"/>
<path d="M 2352.5 830.9 L 2362.9 829.2 L 2363.8 848.2 L 2352.5 849.1 Z" stroke-width="5"/>
<path d="M 2356 832.7 L 2375 837.9"/>
<path d="M 2361.2 841.3 L 2370.7 846.5"/>
<path d="M 2362.9 829.2 L 2378.5 835.3"/>
<ellipse cx="2380.2" cy="847.4" rx="6.1" ry="7.8" stroke-width="3.5" fill="#fff"/>
<ellipse cx="2480.8" cy="905.4" rx="15.3" ry="23.4" transform="rotate(15 2480.8 905.4)" stroke-width="3.5" fill="#fff"/>
<ellipse cx="2479.9" cy="906.3" rx="12.5" ry="20.5" transform="rotate(15 2479.9 906.3)"/>
<path d="M 2468.6 900.2 L 2477.3 893.3 L 2492.9 894.2"/>
<ellipse cx="2260.7" cy="957.4" rx="18.2" ry="24.3" transform="rotate(12 2260.7 957.4)" stroke-width="3.5" fill="#fff"/>
<path d="M 2268.5 936.6 C 2278 948.8 2278 966.1 2267.6 978.2"/>
<path d="M 2244.7 945.3 L 2269.3 940.1"/>
<path d="M 2200 752.1 L 2356 723.5"/>
<path d="M 2200 770.3 L 2226 762.5 L 2230.3 757.3 L 2290.1 747.7 L 2294.5 746 L 2299.7 746.9 L 2360.3 734.7 L 2359.4 720"/>
<path d="M 2226 762.5 L 2272.8 785 L 2276.3 786.7"/>
<path d="M 2230.3 761.6 L 2274.5 782.4"/>
<path d="M 2294.5 752.9 L 2336.9 777.2 L 2404.5 762.5 L 2409.7 763.3 L 2408.8 772"/>
<path d="M 2299.7 753.8 L 2338.6 775.5"/>
<path d="M 2290.1 747.7 L 2294.5 752.9"/>
<ellipse cx="2289.3" cy="771.1" rx="23.4" ry="9.5" stroke-width="5"/>
<ellipse cx="2290.1" cy="767.7" rx="10.4" ry="4.9"/>
<path d="M 2283.2 764.2 L 2283.2 771.1"/>
<path d="M 2291 763.3 L 2291 772"/>
<path d="M 2297.9 764.2 L 2297.9 770.3"/>
<path d="M 2360.3 734.7 L 2363.8 740.8 L 2404.5 760.7"/>
<path d="M 2200 799.7 L 2276.3 793.7 L 2281.5 791.4 L 2331.7 783.8"/>
<path d="M 2381.1 720 L 2392.4 735.6 L 2401.9 757.3 L 2409.7 763.3"/>
<path d="M 2380.2 720 L 2404.5 720 L 2404.5 726.1 L 2390.6 727.8 Z" fill="#000"/>
<path d="M 2517.2 720 C 2529.3 740.8 2555.3 772 2591.7 788.5 L 2596.9 720"/>
<path d="M 1831.5 545.6 C 1842 455.3 1905.1 287.1 2018.6 219.9 C 2052.2 196.7 2094.2 175.7 2123.7 167.3"/>
<path d="M 1842 541.4 C 1850.4 509.9 1863.1 484.7 1877.8 461.6 L 1907.2 478.4"/>
<path d="M 2022.8 217.8 C 2052.2 211.5 2102.6 222 2140.5 249.3 C 2178.3 278.7 2203.5 308.1 2222.9 330"/>
<path d="M 1997.6 255.6 L 2014.4 254.3"/>
<path d="M 2109 280.8 L 2130 295.5"/>
<path d="M 2140.5 253.5 C 2148.9 266.1 2152.2 276.6 2153.1 287.1"/>
<path d="M 2130 310.2 L 2117.4 364.9"/>
<path d="M 2152.2 301.8 L 2140.5 350.2"/>
<path d="M 1875.7 425 L 1880.7 430.9"/>
<path d="M 1879.9 549.8 L 1886.2 526.7 C 1890.4 520.4 1898.8 520.4 1903 524.6 L 1905.1 549.8"/>
<path d="M 1890.4 549.8 L 1894.6 528.8"/>
<path d="M 2529.3 594 C 2527.2 581.4 2533.5 575.1 2544 573 L 2613.4 575.1 L 2619.7 581.4"/>
<path d="M 2529.3 594 L 2552.4 665.4"/>
<path d="M 2539.8 591.9 C 2544 587.7 2552.4 585.6 2556.6 584.7 L 2611.3 584.7"/>
<path d="M 2539.8 591.9 L 2556.6 663.3"/>
<path d="M 2546.1 598.2 L 2560.8 661.2"/>
<ellipse cx="2577.6" cy="620.0" rx="11.3" ry="12.2" fill="#000"/>
<path d="M 2590.2 270.3 C 2609.2 341.8 2621.8 434.2 2621.8 518.3 C 2620.5 560.3 2616.3 577.2 2615.5 585.6 L 2608.3 650.7"/>
<path d="M 2599.5 690.7 L 2590.2 789.4"/>
<path d="M 2595.3 278.7 C 2613.4 350.2 2626 425.8 2626 509.9 L 2621.8 577.2 L 2615.5 644.4"/>
<path d="M 2515 716.3 C 2529.3 736.9 2546.1 755.8 2556.6 765.5 C 2569.2 775.6 2579.7 783.1 2590.2 788.6"/>
<path d="M 2607.5 690.7 L 2594.5 786.9"/>
<path d="M 2680.6 703.3 C 2699.5 697 2714.2 678 2723.5 654.9"/>
<path d="M 2668 694 L 2672.2 699.9"/>
<path d="M 2771 794.9 L 2774.4 774.7"/>
<path d="M 2410.9 703.2 L 2680 634.4"/>
<path d="M 2411.8 710.3 L 2694.1 639.7"/>
<path d="M 2412.6 721.8 L 2747 637.9"/>
<path d="M 2420.6 729.7 L 2750.6 644.1" stroke-width="4.5"/>
<path d="M 2438.2 733.2 L 2724.1 658.2"/>
<path d="M 2743.5 637.9 C 2748.8 636.2 2752.3 638.8 2750.6 644.1"/>
<path d="M 2743.5 622.9 L 2755.9 619.4 L 2766.4 630 L 2764.7 637.1 L 2754.1 640.6" stroke-width="4"/>
<path d="M 2537 167 C 2574.4 190.8 2608.5 224.9 2628.9 258.9 L 2652.7 299.7"/>
<path d="M 2548.9 166.3 C 2594.9 187.4 2642.5 224.9 2669.7 262.3 L 2693.5 294.6 C 2691.8 299.7 2685 301.4 2679.9 294.6 L 2662.9 270.8 C 2649.3 252.1 2628.9 231.7 2605.1 218.1"/>
<path d="M 2605.1 218.1 C 2618.7 238.5 2632.3 262.3 2645.9 286.1"/>
<path d="M 2589.8 267.4 C 2594.9 264 2601.7 264 2605.1 267.4 C 2622.1 275.9 2635.7 286.1 2649.3 299.7"/>
<path d="M 2589.8 267.4 L 2588.1 275.9 L 2593.2 287.8 C 2608.5 281 2632.3 287.8 2649.3 301.4"/>
<path d="M 2601.7 269.1 L 2594.9 286.1"/>
<path d="M 2652.7 299.7 L 2666.3 292.9 L 2705.4 354.2 L 2696.9 367.8 L 2688.4 371.2 L 2690.1 395 L 2696.9 456.2 L 2693.5 507.3"/>
<path d="M 2669.7 296.3 L 2679.9 309.9 L 2703.7 350.7"/>
<path d="M 2688.4 371.2 C 2690.1 364.4 2696.9 361 2705.4 360.3 L 2731 361 C 2741.2 362.7 2748 371.2 2751.4 384.8 L 2758.2 401.8 C 2765 432.4 2770.1 463 2771.8 486.8 L 2765 510.7 L 2761.6 541.3 L 2773.5 595.7 L 2758.2 594"/>
<path d="M 2696.9 367.8 L 2717.3 408.6 L 2720.7 432.4 L 2710.5 466.4 L 2693.5 514.1 C 2679.9 534.5 2662.9 551.5 2649.3 561.7 C 2639.1 571.9 2639.1 588.9 2645.9 599.1 C 2652.7 605.9 2666.3 605.9 2676.5 602.5"/>
<path d="M 2720.7 398.4 L 2720.7 432.4"/>
<path d="M 2710.5 382.1 L 2741.2 378.6 L 2754.8 385.5" stroke-width="5"/>
<path d="M 2705.4 374.6 L 2737.8 371.2"/>
<path d="M 2710.5 388.2 L 2744.6 386.5" stroke-width="4"/>
<path d="M 2634 299.7 L 2639.1 309.9 L 2652.7 347.3 L 2679.9 354.2"/>
<path d="M 2634 299.7 C 2639.1 296.3 2645.9 296.3 2651 299.7"/>
<ellipse cx="2666.3" cy="335.4" rx="11.2" ry="12.9" stroke-width="5"/>
<ellipse cx="2666.3" cy="336.5" rx="5.8" ry="6.8" fill="#000"/>
<path d="M 2656.1 330.3 L 2676.5 328.6"/>
<path d="M 2657.8 342.2 L 2678.2 340.5"/>
<path d="M 2679.9 354.2 L 2690.1 367.8"/>
<path d="M 2656.1 554.9 C 2642.5 561.7 2632.3 571.9 2625.5 582.1"/>
<path d="M 2761.6 541.3 L 2758.2 594"/>
<path d="M 2744.6 595.7 L 2731 640"/>
<path d="M 2737.8 592.3 L 2724.2 633.2"/>
<ellipse cx="2734.4" cy="463.0" rx="15.3" ry="17.0" stroke-width="5"/>
<ellipse cx="2735.0" cy="463.7" rx="7.5" ry="8.8" stroke-width="5"/>
<path d="M 2765 457.9 C 2754.8 459.6 2751.4 469.8 2754.8 480 L 2768.4 473.2"/>
<ellipse cx="2705.4" cy="530.4" rx="9.5" ry="10.9"/>
<ellipse cx="2719.0" cy="536.2" rx="5.1" ry="4.1"/>
<ellipse cx="2705.4" cy="579.4" rx="15.3" ry="18.7" stroke-width="5"/>
<ellipse cx="2705.4" cy="579.4" rx="7.5" ry="9.5" stroke-width="5"/>
<path d="M 2681.6 560 L 2727.6 554.9 L 2732.7 565.1 L 2724.2 595.7 L 2727.6 629.8 L 2679.9 633.2 L 2678.2 619.5 L 2686.7 592.3 L 2676.5 568.5 Z"/>
<ellipse cx="2659.5" cy="589.9" rx="9.5" ry="10.9" stroke-width="5"/>
<ellipse cx="2669.7" cy="594.0" rx="4.1" ry="3.4"/>
<ellipse cx="2741.2" cy="580.4" rx="9.5" ry="10.9" stroke-width="5"/>
<ellipse cx="2753.1" cy="584.8" rx="4.1" ry="3.4"/>
<path d="M 2678.2 633.2 L 2686.7 609.3 L 2696.9 629.8 L 2708.8 605.9 L 2720.7 628.1 L 2727.6 609.3" stroke-width="4"/>
<path d="M 2744.6 624.7 C 2751.4 619.5 2758.2 626.4 2754.8 633.2"/>
<ellipse cx="2762.3" cy="633.2" rx="4.1" ry="4.1"/>
<path d="M 840 1182.7 L 1031.3 1177.1 C 1034.1 1178.5 1035.5 1181.3 1034.1 1182.7"/>
<path d="M 840 1197.9 L 881.6 1196.6 L 953.7 1189.6"/>
<path d="M 881.6 1197.9 L 953.7 1299.2" stroke-width="6"/>
<path d="M 952.3 1191 L 957.9 1296.4 L 962 1299.2 L 978.7 1300.5 L 1122.9 1277 C 1127 1274.2 1127 1268.7 1125.6 1263.1 L 1125.6 1243.7 L 1117.3 1235.4 L 1109 1236.8 L 1099.3 1213.2 L 1093.7 1209 L 1084 1209.9"/>
<path d="M 956.5 1189.6 L 962 1297.8" stroke-width="4"/>
<path d="M 964.8 1189.6 L 970.3 1290.8"/>
<path d="M 984.2 1189.6 L 1089.6 1246.5"/>
<path d="M 998.1 1189.6 C 1017.5 1193.8 1034.1 1196.6 1061.9 1211.8 L 1084 1210.4"/>
<path d="M 1084 1210.4 C 1086.8 1218.7 1086.8 1229.8 1081.3 1234"/>
<path d="M 1084 1209.9 L 1086.8 1235.4"/>
<path d="M 1093.7 1209 L 1096.5 1236.8"/>
<path d="M 1089.6 1213.2 L 1092.4 1235.4"/>
<path d="M 975.9 1296.4 L 977.3 1274.2 C 978.7 1265.9 987 1263.1 995.3 1262.6 C 1003.6 1260.3 1003.6 1252 1006.4 1249.2 L 1048 1243.1 L 1059.1 1256.2"/>
<path d="M 1006.4 1249.2 L 1014.7 1263.1 C 1017.5 1267.3 1023 1267.3 1028.6 1266.4 L 1056.3 1261.7 L 1060.5 1256.2 L 1118.7 1246.5"/>
<path d="M 1084 1252 L 1085.4 1275.6 L 1118.7 1270"/>
<path d="M 1118.7 1246.5 L 1120.1 1271.4"/>
<ellipse cx="1034.1" cy="1257.6" rx="9.7" ry="3.1" transform="rotate(-5 1034.1 1257.6)" fill="#000"/>
<path d="M 1086.8 1246.5 L 1117.3 1239.5"/>
<path d="M 1224.1 1278.4 C 1226.9 1274.2 1231 1268.7 1231 1260.3 L 1228.8 1221.5 C 1228.2 1211.8 1224.1 1204.9 1214.4 1204.3 L 1189.4 1204.9 C 1179.7 1205.4 1172.8 1210.4 1172.8 1221.5 L 1175.6 1265.9 C 1176.9 1277 1186.6 1283.9 1192.2 1290.8 C 1195 1301.9 1195 1324.1 1200.5 1349.1 C 1200.5 1360.2 1192.2 1365.7 1183.9 1371.3 L 1131.2 1408.7 C 1120.1 1415.6 1113.2 1429.5 1111.8 1446.1 L 1128.4 1562.1" stroke-width="5.5"/>
<path d="M 1211.6 1296.4 L 1224.1 1343.5 C 1225.5 1360.2 1214.4 1376.8 1203.3 1387.9 L 1145 1429.5 C 1136.7 1435 1132.6 1443.4 1134 1454.5 L 1153.4 1562.1" stroke-width="5.5"/>
<path d="M 1193.6 1239.5 C 1193.6 1231.2 1203.3 1227.1 1210.2 1235.4"/>
<path d="M 1179.7 1265.9 L 1200.5 1263.9"/>
<path d="M 1211.6 1262.6 L 1225.5 1260.9"/>
<path d="M 1197.7 1297.8 L 1211.6 1296.4"/>
<path d="M 1199.1 1318.6 L 1215.8 1316.4"/>
<path d="M 1201.9 1332.4 L 1219.9 1329.7"/>
<path d="M 1203.3 1340.8 L 1222.7 1338"/>
<path d="M 1190.8 1374 L 1201.9 1383.7"/>
<path d="M 1132.6 1412.9 L 1143.7 1425.3"/>
<path d="M 1117.3 1457.2 C 1122.9 1460 1128.4 1458.6 1132.6 1454.5"/>
<path d="M 1158.9 1130 L 1190 1204.9"/>
<path d="M 1168.6 1130 L 1195.5 1204.9"/>
<path d="M 1197.7 1238.2 L 1247.7 1392.1"/>
<path d="M 1203.3 1236.8 L 1254.6 1390.7"/>
<path d="M 1276.8 1437.3 L 1366.9 1514.1" stroke-width="4"/>
<path d="M 1243.1 1395.7 L 1245.7 1389.3 L 1254 1388 L 1264.3 1400.2 L 1264.9 1403.4 L 1258.5 1408.5 L 1244.4 1409.8 Z" stroke-width="1" fill="#000"/>
<ellipse cx="1260.4" cy="1427.1" rx="20.5" ry="20.5" stroke-width="6.5" fill="#fff"/>
<path d="M 1247 1420.1 L 1261.1 1411.7 L 1275.2 1420.1 L 1275.2 1434.2 L 1264.9 1440.6 L 1248.2 1436.8 Z" stroke-width="1" fill="#000"/>
<path d="M 1241.2 1434.2 C 1245.7 1443.8 1258.5 1448.9 1271.3 1442.5" stroke-width="9"/>
<path d="M 1271.3 1442.5 C 1275.8 1439.3 1277.8 1436.8 1279.1 1434.2" stroke-width="6"/>
<ellipse cx="1262.0" cy="1429.7" rx="6.7" ry="6.1" fill="#fff" stroke="none"/>
<path d="M 1250.8 1398.9 L 1254.7 1398.2 L 1254 1400.8 L 1250.5 1401.5 Z" fill="#fff" stroke="none"/>
<path d="M 662.7 1205.4 L 693.5 1201.5 L 747.4 1202.8"/>
<path d="M 770.5 1240.1 C 783.4 1246.5 791.1 1269.6 787.2 1333.8 C 785.9 1354.3 780.8 1364.6 773.1 1366.6" stroke-width="4.5"/>
<path d="M 827 1199 L 880.9 1196.4" stroke-width="5"/>
<path d="M 955.4 1189.5 L 1035 1181.3" stroke-width="5"/>
<path d="M 1128.5 1562 L 1141.7 1644.9 C 1146.3 1663.4 1160.1 1675 1178.6 1679.6 L 1199.4 1681.9 L 1213.3 1690.7 L 1268.7 1690.7 C 1274.5 1689.5 1276.8 1684.7 1276.8 1677.3 L 1275.7 1665.7 C 1274.5 1661.6 1271.1 1660.2 1266.4 1660.2 L 1215.6 1661.1 L 1187.9 1656.5 C 1176.3 1655.3 1169.4 1651.8 1165.9 1644.9 L 1153.4 1562" stroke-width="5.5"/>
<path d="M 1191.3 1662.2 L 1191.3 1678.4"/>
<path d="M 1217.9 1664.6 L 1216.8 1686.5"/>
<path d="M 1219.1 1685.4 L 1267.6 1683.7"/>
<ellipse cx="1247.3" cy="1672.6" rx="11.6" ry="5.1" stroke-width="4"/>
<ellipse cx="1246.8" cy="1673.1" rx="6.5" ry="2.1"/>
<path d="M 1150.9 1654.2 L 1160.1 1650.7"/>
<path d="M 1155.5 1661.1 L 1165.9 1654.2"/>
<path d="M 1161.3 1666.9 L 1170.5 1657.6"/>
<path d="M 1169.4 1671.5 L 1175.2 1659.9"/>
<path d="M 1177.5 1675 L 1180.9 1662.2"/>
<path d="M 1117.4 1455.5 C 1122 1458.9 1129 1457.8 1132.4 1452"/>
<path d="M 1278 1675 L 1363.5 1680.7" stroke-width="4"/>
<path d="M 2175.7 996.6 C 2168.7 993.9 2167.4 985.5 2171.5 980" stroke-width="5"/>
<path d="M 2174.3 981.4 L 2289.4 1038.2"/>
<path d="M 2179.8 980 L 2291.3 1034.1"/>
<path d="M 2308.8 1051.5 L 2464.1 1129.8"/>
<path d="M 2306 1057.6 L 2459.9 1135.3"/>
<path d="M 2339.3 1412.1 L 2390.6 1224 C 2392 1210.2 2387.8 1201.9 2379.5 1194.9 L 2351.8 1179.7 C 2335.1 1171.3 2324 1157.5 2321.3 1135.3 L 2318.5 1099.2 L 2325.4 1075.7 L 2331 1071.5 L 2332.9 1038.2 C 2332.9 1029.9 2329.6 1024.4 2321.3 1024.4 L 2299.1 1028.5 C 2292.1 1029.9 2286.6 1034.1 2286.6 1043.8 L 2285.8 1085.4 L 2296.3 1100.6 L 2297.7 1129.8 C 2301.9 1163 2315.7 1185.2 2335.1 1193.5 L 2365.6 1211.6 C 2369.8 1215.7 2369.8 1221.3 2368.4 1226.8 L 2312.9 1412.1" stroke-width="5.5"/>
<path d="M 2296.3 1042.4 L 2294.9 1082.6 L 2325.4 1075.7"/>
<path d="M 2296.3 1042.4 C 2296.3 1035.5 2301.9 1032.7 2307.4 1032.1"/>
<path d="M 2306 1060.4 C 2303.2 1054.9 2306 1047.9 2311.6 1047.9"/>
<path d="M 2300.5 1113.1 L 2317.1 1110.3"/>
<path d="M 2301.9 1124.2 L 2318.5 1122"/>
<path d="M 2303.2 1135.3 L 2319.9 1133.9"/>
<path d="M 2306 1149.2 L 2324 1143.6"/>
<path d="M 2371.2 1210.2 L 2380.9 1199.1"/>
<path d="M 2374 1232.4 L 2385 1233.7"/>
<path d="M 2331 1185.2 C 2336.5 1183.8 2340.7 1179.7 2340.7 1174.1"/>
<path d="M 2504.3 1171.3 L 2631.9 1341.9" stroke-width="4"/>
<path d="M 2080 1014.7 L 2221.4 1003.6"/>
<path d="M 2080 1031.3 L 2132.7 1028.5 L 2213.1 1013.3"/>
<path d="M 2218.7 1017.4 L 2207.6 1104.8 L 2080 1124.2"/>
<path d="M 2080 1171.3 L 2159 1158.9 L 2161.8 1115.9"/>
<path d="M 2207.6 1104.8 L 2163.2 1115.9"/>
<path d="M 2229.8 1021.6 L 2271.3 1059"/>
<path d="M 2163.2 1128.4 C 2190.9 1140.8 2246.4 1146.4 2283.8 1149.2"/>
<path d="M 2163.2 1138.1 L 2202 1156.1"/>
<path d="M 2160.4 1151.9 L 2285.2 1170 C 2286.6 1167.2 2287.4 1164.4 2286.6 1161.6"/>
<ellipse cx="2260.3" cy="1163.0" rx="6.9" ry="3.1"/>
<path d="M 2118.8 1167.2 C 2124.4 1179.7 2135.5 1185.2 2146.6 1186.6 L 2282.4 1210.2 C 2299.1 1210.2 2307.4 1206 2311.6 1200.5"/>
<path d="M 2282.4 1210.2 L 2343.4 1247.6" stroke-width="4.5"/>
<path d="M 2335.1 988.3 C 2346.2 1007.7 2357.3 1021.6 2374 1031.3 L 2465.5 1093.7"/>
<path d="M 2374 1031.3 L 2368.4 1143.6"/>
<path d="M 2378.1 1034.1 L 2372.6 1142.2"/>
<path d="M 2343.4 1147.8 L 2428 1132.5 L 2476.6 1158.9"/>
<path d="M 2335.1 1104.8 L 2339.3 1140.8"/>
<path d="M 2407.2 980 C 2404.5 1002.2 2407.2 1035.5 2412.8 1052.1 L 2468.2 1096.5 C 2473.8 1103.4 2482.1 1103.4 2490.4 1100.6 C 2523.7 1085.4 2557 1063.2 2565.3 1041 L 2566.7 1024.4 C 2562.5 1007.7 2551.4 993.9 2545.9 980"/>
<path d="M 2473.8 1096.5 L 2479.3 1049.3 C 2496 1043.8 2512.6 1041 2523.7 1029.9 C 2529.3 1018.8 2523.7 1007.7 2515.4 996.6 L 2501.5 988.3"/>
<path d="M 2479.3 1054.9 C 2501.5 1049.3 2523.7 1043.8 2532 1024.4 C 2534.8 1013.3 2529.3 1002.2 2520.9 993.9"/>
<path d="M 2453 1007.7 L 2468.2 988.3 L 2487.7 996.6 L 2479.3 1016.1 L 2471 1027.1 L 2455.8 1021.6 Z" stroke-width="4"/>
<path d="M 2468.2 988.3 L 2466.9 1007.7 L 2455.8 1021.6"/>
<path d="M 2466.9 1007.7 L 2479.3 1016.1"/>
<path d="M 2479.3 1077.1 L 2501.5 1067.4 L 2516.8 1079.8 L 2519.5 1089.5 L 2498.7 1100.6 L 2490.4 1088.2 Z" stroke-width="4.5"/>
<path d="M 2484.9 1082.6 L 2507.1 1074.3"/>
<path d="M 2523.7 988.3 L 2551.4 991.1 L 2554.2 1007.7" stroke-width="4.5"/>
<path d="M 2734.5 980 C 2726.1 1013.3 2704 1071.5 2670.7 1110.3 L 2643 1139.5 L 2641.6 1145"/>
<ellipse cx="2661.0" cy="1096.5" rx="7.8" ry="7.8" fill="#000"/>
<ellipse cx="2670.1" cy="1104.0" rx="4.4" ry="4.4" fill="#000"/>
<path d="M 2529.3 1164.4 L 2643 1145 L 2658.2 1153.3 C 2661 1157.5 2659.6 1163 2656.8 1168.6 C 2648.5 1190.8 2629.1 1210.2 2601.4 1225.4"/>
<path d="M 2519.5 1176.9 L 2601.4 1225.4 L 2605.5 1231 C 2605.5 1235.1 2602.7 1237.9 2598.6 1240.7 L 2576.4 1257.3"/>
<path d="M 2562.5 1268.4 C 2537.6 1287.8 2496 1312.8 2468.2 1326.6 C 2454.4 1333.6 2440.5 1333.6 2429.4 1326.6 L 2404.5 1310 L 2401.7 1287.8 L 2392 1278.1"/>
<path d="M 2392 1278.1 L 2516.8 1207.4"/>
<path d="M 2401.7 1280.9 L 2523.7 1218.5"/>
<path d="M 2408.6 1290.6 L 2534.8 1226.8"/>
<path d="M 2405.8 1308.6 L 2537.6 1233.7"/>
<ellipse cx="2484.9" cy="1303.1" rx="11.1" ry="4.2" stroke-width="4"/>
<path d="M 2602.7 1201.9 L 2608.3 1179.7 C 2611.1 1172.7 2616.6 1174.1 2619.4 1181.1 L 2623.5 1200.5 C 2618 1206 2606.9 1206 2602.7 1201.9 Z" fill="#000"/>
<path d="M 2523.7 1182.4 C 2529.3 1185.2 2532 1190.8 2532 1196.3"/>
<path d="M 2537.6 1190.8 C 2543.1 1193.5 2545.9 1201.9 2544.5 1207.4"/>
<path d="M 2548.7 1201.9 C 2551.4 1206 2551.4 1211.6 2548.7 1215.7"/>
<path d="M 2568.1 1244.8 L 2576.4 1250.4"/>
<path d="M 2457.9 1133.1 L 2460.8 1126.8 L 2467.2 1123.9 L 2477 1127.3 L 2497.8 1136 L 2487.4 1153.9 L 2467.2 1144.7 L 2459.1 1137.7 Z" stroke-width="1" fill="#000"/>
<path d="M 2470 1135.4 L 2474.7 1133.7 L 2472.9 1137.7 L 2470.6 1137.2 Z" fill="#fff" stroke="none"/>
<path d="M 2476.1 1137.2 L 2480.4 1136.6 L 2478.7 1141.5 L 2476.4 1140.6 Z" fill="#fff" stroke="none"/>
<path d="M 2482.2 1141.2 L 2486.2 1139.5 L 2484.8 1144.7 L 2482.5 1144.1 Z" fill="#fff" stroke="none"/>
<path d="M 2488.2 1144.4 L 2492.3 1142.6 L 2490.8 1147.8 L 2488.5 1147 Z" fill="#fff" stroke="none"/>
<ellipse cx="2505.6" cy="1152.2" rx="18.8" ry="21.1" transform="rotate(-12 2505.6 1152.2)" stroke-width="1" fill="#000"/>
<path d="M 2507.6 1139.2 L 2500.1 1144.7 L 2494.9 1150.4 L 2494 1160.3 L 2496 1163.1 L 2503 1166.3" stroke-width="2.2" stroke="#fff"/>
<path d="M 2508.7 1144.7 L 2503.5 1149.3" stroke-width="2" stroke="#fff"/>
<path d="M 2501.2 1152.2 L 2500.7 1160.3" stroke-width="1.6" stroke="#fff"/>
<path d="M 2509 1140 L 2513.9 1140 L 2515.7 1142.6" stroke-width="2" stroke="#fff"/>
<path d="M 2512.2 1151 L 2515.7 1151 L 2516.8 1153.9 L 2514.5 1159.1 L 2511.1 1161.1 L 2508.2 1160.3 L 2508.2 1157.4 L 2509.3 1154.5 Z" fill="#fff" stroke="none"/>
<path d="M 2312.9 1411.9 L 2308.8 1419.2 C 2305 1427 2299.2 1432.8 2295.3 1435.7 C 2285.6 1442.4 2268.2 1450.2 2256.6 1454 L 2225.7 1467.6 C 2220.9 1470.5 2219.9 1475.3 2221.8 1482.1 C 2224.7 1485.9 2237.3 1490.8 2247 1492.7 C 2252.8 1493.7 2256.6 1492.7 2260.5 1491.7 L 2287.6 1480.1 C 2293.4 1476.3 2295.3 1471.4 2294.3 1463.7 L 2299.2 1460.2 C 2310.8 1454 2320.4 1446.3 2328.1 1434.7 C 2332 1427 2333.9 1421.2 2336.8 1411.9" stroke-width="5.5"/>
<path d="M 2227.6 1474.3 L 2256.6 1461.8 L 2287.6 1470.5"/>
<path d="M 2227.6 1474.3 L 2245 1483 L 2252.8 1484 L 2285.6 1472.4"/>
<path d="M 2227.6 1477.2 L 2246 1485.9 L 2254.7 1486.5 L 2287.6 1475.3"/>
<ellipse cx="2253.7" cy="1472.4" rx="10.6" ry="5.2" stroke-width="5"/>
<ellipse cx="2253.7" cy="1472.4" rx="5.4" ry="1.7"/>
<path d="M 2294.3 1444.4 L 2297.2 1454"/>
<path d="M 2300.1 1439.5 L 2305 1450.2"/>
<path d="M 2306.9 1432.8 L 2314.6 1441.5"/>
<path d="M 2311.7 1425 L 2321.4 1432.8"/>
<path d="M 2314.6 1420.2 L 2326.2 1424.1"/>
<path d="M 2322.4 1442.4 L 2466.3 1512" stroke-width="4"/>
<ellipse cx="2067.1" cy="1008.3" rx="9.7" ry="10.5" transform="rotate(20 2067.1 1008.3)" stroke-width="3.5" fill="#fff"/>
<ellipse cx="2065.7" cy="1009.7" rx="7.2" ry="8.3" transform="rotate(20 2065.7 1009.7)"/>
<path d="M 1782.9 1091.5 L 1784.2 1116.5 L 1814.8 1130.3 L 1817.5 1187.2 L 1864.7 1212.1 L 2050.5 1183 L 2046.3 1137.3"/>
<path d="M 1782.9 1091.5 L 1814.8 1106.8 C 1821.7 1113.7 1830 1124.8 1843.9 1127.6 L 1893.8 1119.2"/>
<path d="M 1782.9 1091.5 L 1871.6 1078.5"/>
<path d="M 1856.4 1126.2 L 1892.4 1144.2 L 1988.1 1129 L 1989.5 1155.3 L 1893.8 1170.5 L 1860.5 1152.5 L 1864.7 1212.1"/>
<path d="M 1892.4 1144.2 L 1893.8 1170.5"/>
<path d="M 1960.3 1119.2 L 1988.1 1129"/>
<path d="M 1990.3 1142.8 L 2050.5 1133.7" stroke-width="4.5"/>
<path d="M 2050.5 1133.1 L 2056 1127.6 L 2054.6 1066.6"/>
<path d="M 1863.3 1094.3 L 1882.7 1090.1"/>
<path d="M 1863.3 1094.3 L 1868.8 1098.4 L 1881.3 1092.9"/>
<path d="M 1871.6 1078.5 L 1960.3 1119.2"/>
<path d="M 1875.8 1095.7 L 1899.3 1116.5"/>
<path d="M 1884.1 1091.5 L 1924.3 1123.4 L 1938.2 1122"/>
<path d="M 1888.2 1090.1 L 1949.3 1117.9"/>
<path d="M 1893.8 1088.7 L 1954.8 1115.1"/>
<path d="M 1910.4 1070.7 L 1896.6 1086"/>
<path d="M 1957.6 1115.1 L 1996.4 1083.2"/>
<path d="M 1960.3 1116.5 C 1977 1115.1 1990.8 1113.7 1993.6 1105.4 L 1995 1083.2"/>
<ellipse cx="1949.3" cy="1072.1" rx="13.9" ry="3.9" transform="rotate(-42 1949.3 1072.1)"/>
<path d="M 1999.2 1058.2 L 2035.2 1054.1 L 2053.2 1062.4 L 2054.6 1108.2 C 2043.5 1113.7 2026.9 1113.7 2015.8 1109.5 L 1996.4 1101.2 Z"/>
<path d="M 1999.2 1058.2 L 2014.4 1066.6 L 2053.2 1062.4"/>
<path d="M 2014.4 1066.6 L 2017.2 1109.5"/>
<path d="M 2028.3 1065.2 L 2031.1 1110.9"/>
<path d="M 2047.7 1063.8 L 2050.5 1109.5"/>
<ellipse cx="2029.7" cy="1059.6" rx="9.2" ry="2.5" fill="#000"/>
<path d="M 2068.5 1041.6 L 2060.2 1124.8" stroke-width="5"/>
<path d="M 2120.6 1030 L 2064.3 1126.2"/>
<path d="M 2124 1029.1 L 2067.1 1127"/>
<path d="M 2128.1 1030 L 2070.7 1126.2"/>
<path d="M 2068.5 1127.6 L 2160 1112.3"/>
<path d="M 2051.9 1174.7 L 2157.2 1158.1 L 2160 1138.7"/>
<path d="M 2117 1166.4 C 2126.7 1180.3 2143.4 1188.6 2160 1190"/>
<path d="M 2773.5 775.7 L 2769.6 806.5 C 2764.5 855.3 2754.2 906.7 2741.4 960.1"/>
<path d="M 2726 813 L 2769.6 806"/>
<ellipse cx="2734.2" cy="833.5" rx="18.0" ry="20.0" stroke-width="4"/>
<ellipse cx="2735.0" cy="915.7" rx="5.1" ry="8.0" transform="rotate(25 2735.0 915.7)" stroke-width="5"/>
<path d="M 2524.4 943.9 L 2700.3 922.1 C 2713.1 920.8 2720.9 923.4 2727.3 922.6"/>
<path d="M 2668.2 693.5 L 2670.8 700.7"/>
<path d="M 2748.9 941.7 C 2745.5 956.7 2740.5 968.4 2734.5 980.1"/>
<path d="M 682.4 869.3 C 686.3 865.4 692.4 865.4 696.3 874.7 L 700.9 886.2 L 704.7 895.5 L 705.1 904.7 L 701.7 914 L 697 914 L 696.3 901.6 L 694 880.1 L 691.6 880.1 L 694 914 L 688.6 914 L 689.3 921.7 L 692.4 941.7 L 686.3 952.5 L 669.3 947.9 L 668.2 942.5 L 677 934 L 671.2 930.9 L 671.2 928.6 L 680.9 921.7 L 679.3 901.6 L 679.3 881.6 Z" stroke-width="1" fill="#000"/>
<path d="M 689.3 914.7 L 710.9 932.4 L 704.7 937.1 L 692.4 941.7" stroke-width="5"/>
<path d="M 693.2 923.2 L 701.7 930.9 L 694 934 Z" stroke-width="1" fill="#fff"/>
<path d="M 704.7 906.3 L 762.5 900.9" stroke-width="4"/>
<ellipse cx="744.0" cy="922.8" rx="14.3" ry="5.5" transform="rotate(-8 744.0 922.8)" stroke-width="5"/>
<path d="M 726.3 909.3 L 759.4 907.8 L 757.1 912.4 L 755.6 917 L 734 917.8 L 727.9 917.8 L 731.7 913.2 L 726.3 912 Z" stroke-width="1" fill="#000"/>
<path d="M 692.4 939.4 L 780 935.5" stroke-width="7"/>
<path d="M 723.2 930.1 L 762.5 931.7 L 766.4 934 L 776.4 929.4 L 767.9 902.4" stroke-width="4.5"/>
<path d="M 725.5 840 L 733.3 903.2"/>
<path d="M 727.9 840 L 735.2 900.9"/>
<path d="M 747.9 840 L 751 873.9 L 753.3 892.4 L 762.5 898.6 L 768.7 897.8 L 766.4 878.5 L 760.2 840"/>
<path d="M 757.9 860.8 L 761 870.8 L 763.3 880.1 L 761 884.7 L 761.8 895.5 L 754.1 893.2 L 751 873.9 L 754.1 872.4 Z" stroke-width="1" fill="#000"/>
<path d="M 772.5 840 L 777.9 877.8 L 767.9 877.8"/>
<path d="M 689.3 846.2 L 692.4 866.2 L 696.3 874.7"/>
<path d="M 686.3 840 L 684.7 846.9 L 677.4 856.2" stroke-width="4"/>
<path d="M 768.7 903.2 C 773.3 903.9 777.2 907.8 779.5 914"/>
<path d="M 686.3 952.5 L 681.6 960"/>
<path d="M 532.4 1039.3 C 547.2 1024.5 567.8 1017.1 591.4 1017.1 C 629.8 1018.6 662.3 1042.2 680 1080"/>
<path d="M 588.5 1018.6 L 665.3 1080"/>
<path d="M 1391 1504 L 1391 1545.2 L 1384.1 1545.2 L 1384.1 1516.8 L 1375 1516.8 L 1375 1511 L 1380 1510.1 L 1382.8 1509.1 L 1385.1 1507.2 L 1385.1 1505 L 1386.1 1504 Z" stroke-width="0.6" fill="#000" stroke-linejoin="miter"/>
<path d="M 2654 1345 L 2654 1386.2 L 2647.1 1386.2 L 2647.1 1357.8 L 2638 1357.8 L 2638 1352 L 2643 1351.1 L 2645.8 1350.1 L 2648.1 1348.2 L 2648.1 1346 L 2649.1 1345 Z" stroke-width="0.6" fill="#000" stroke-linejoin="miter"/>
<path d="M 1377 1677.9 C 1377 1670 1381.1 1665.1 1387.5 1665.1 C 1394.1 1665.1 1398.7 1669 1398.7 1674.5 C 1398.7 1680.5 1394.1 1683.5 1387.5 1687.5 C 1381.1 1691.5 1376.6 1696 1376.3 1701 L 1402 1701" stroke-width="5.8" stroke-linecap="butt" stroke-linejoin="miter"/>
<path d="M 2478.9 1518.7 C 2478.9 1510.8 2483 1505.9 2489.4 1505.9 C 2496 1505.9 2500.6 1509.8 2500.6 1515.3 C 2500.6 1521.3 2496 1524.3 2489.4 1528.3 C 2483 1532.3 2478.5 1536.8 2478.2 1541.8 L 2503.9 1541.8" stroke-width="5.8" stroke-linecap="butt" stroke-linejoin="miter"/>
</svg>
</body></html>
